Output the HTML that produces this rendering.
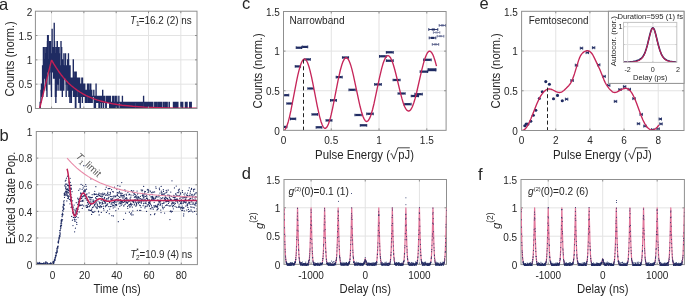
<!DOCTYPE html>
<html><head><meta charset="utf-8"><style>
html,body{margin:0;padding:0;background:#fff;}
svg{display:block;font-family:"Liberation Sans", sans-serif;will-change:transform;}
</style></head><body>
<svg width="685" height="296" viewBox="0 0 685 296">
<defs><clipPath id="cpa"><rect x="35.4" y="11.2" width="161.6" height="97.3"/></clipPath><clipPath id="cpb"><rect x="36.3" y="131.5" width="161.1" height="133.1"/></clipPath><clipPath id="cpc"><rect x="283.5" y="11.5" width="162.6" height="118.85"/></clipPath><clipPath id="cpd"><rect x="284" y="179.5" width="162.5" height="86.15"/></clipPath><clipPath id="cpf"><rect x="521" y="179.5" width="163.4" height="86.4"/></clipPath><clipPath id="cpe"><rect x="521.6" y="11.3" width="162.4" height="119.2"/></clipPath><clipPath id="cpi"><rect x="623.5" y="22.4" width="53.3" height="40"/></clipPath></defs>
<rect width="685" height="296" fill="#fff"/>
<path d="M51.56 11.2V108.5M83.88 11.2V108.5M116.2 11.2V108.5M148.52 11.2V108.5M180.84 11.2V108.5M35.4 84.17H197M35.4 59.85H197M35.4 35.53H197" stroke="#e3e3e3" stroke-width="1" fill="none"/>
<g clip-path="url(#cpa)">
<path d="M35.4 108.5H35.56V108.5H35.72V108.5H35.88V108.5H36.05V108.5H36.21V108.5H36.37V108.5H36.53V108.5H36.69V108.5H36.85V108.5H37.02V108.5H37.18V108.5H37.34V108.5H37.5V108.5H37.66V108.5H37.82V108.5H37.99V108.5H38.15V108.5H38.31V108.5H38.47V108.5H38.63V108.5H38.79V108.5H38.96V108.5H39.12V108.5H39.28V108.5H39.44V108.5H39.6V108.5H39.76V108.5H39.92V108.5H40.09V102.42H40.25V108.5H40.41V102.42H40.57V102.42H40.73V102.42H40.89V90.26H41.06V96.34H41.22V90.26H41.38V84.17H41.54V96.34H41.7V90.26H41.86V84.17H42.03V84.17H42.19V96.34H42.35V84.17H42.51V65.93H42.67V96.34H42.83V65.93H43V78.09H43.16V84.17H43.32V47.69H43.48V65.93H43.64V90.26H43.8V72.01H43.96V65.93H44.13V78.09H44.29V59.85H44.45V72.01H44.61V59.85H44.77V47.69H44.93V78.09H45.1V65.93H45.26V78.09H45.42V65.93H45.58V84.17H45.74V78.09H45.9V72.01H46.07V53.77H46.23V47.69H46.39V90.26H46.55V78.09H46.71V53.77H46.87V96.34H47.04V72.01H47.2V65.93H47.36V41.61H47.52V35.53H47.68V72.01H47.84V72.01H48V65.93H48.17V35.53H48.33V72.01H48.49V65.93H48.65V59.85H48.81V65.93H48.97V65.93H49.14V84.17H49.3V59.85H49.46V72.01H49.62V41.61H49.78V47.69H49.94V59.85H50.11V47.69H50.27V65.93H50.43V41.61H50.59V59.85H50.75V53.77H50.91V84.17H51.08V53.77H51.24V90.26H51.4V96.34H51.56V65.93H51.72V72.01H51.88V53.77H52.04V29.44H52.21V72.01H52.37V72.01H52.53V53.77H52.69V47.69H52.85V59.85H53.01V59.85H53.18V47.69H53.34V47.69H53.5V78.09H53.66V59.85H53.82V59.85H53.98V78.09H54.15V23.36H54.31V78.09H54.47V41.61H54.63V59.85H54.79V59.85H54.95V72.01H55.12V65.93H55.28V96.34H55.44V84.17H55.6V53.77H55.76V102.42H55.92V47.69H56.08V96.34H56.25V47.69H56.41V78.09H56.57V47.69H56.73V59.85H56.89V90.26H57.05V41.61H57.22V41.61H57.38V65.93H57.54V72.01H57.7V65.93H57.86V84.17H58.02V47.69H58.19V72.01H58.35V65.93H58.51V78.09H58.67V78.09H58.83V90.26H58.99V47.69H59.16V72.01H59.32V53.77H59.48V65.93H59.64V78.09H59.8V72.01H59.96V78.09H60.12V65.93H60.29V72.01H60.45V72.01H60.61V90.26H60.77V84.17H60.93V41.61H61.09V78.09H61.26V84.17H61.42V65.93H61.58V47.69H61.74V90.26H61.9V72.01H62.06V78.09H62.23V96.34H62.39V59.85H62.55V72.01H62.71V72.01H62.87V84.17H63.03V65.93H63.2V78.09H63.36V72.01H63.52V90.26H63.68V90.26H63.84V53.77H64V78.09H64.16V65.93H64.33V72.01H64.49V78.09H64.65V78.09H64.81V65.93H64.97V78.09H65.13V78.09H65.3V72.01H65.46V53.77H65.62V65.93H65.78V72.01H65.94V84.17H66.1V96.34H66.27V65.93H66.43V65.93H66.59V78.09H66.75V65.93H66.91V65.93H67.07V65.93H67.24V65.93H67.4V84.17H67.56V59.85H67.72V90.26H67.88V65.93H68.04V72.01H68.2V65.93H68.37V53.77H68.53V59.85H68.69V90.26H68.85V96.34H69.01V65.93H69.17V90.26H69.34V78.09H69.5V72.01H69.66V96.34H69.82V102.42H69.98V65.93H70.14V78.09H70.31V84.17H70.47V78.09H70.63V90.26H70.79V96.34H70.95V84.17H71.11V90.26H71.28V102.42H71.44V78.09H71.6V84.17H71.76V78.09H71.92V90.26H72.08V90.26H72.24V90.26H72.41V90.26H72.57V78.09H72.73V90.26H72.89V78.09H73.05V78.09H73.21V59.85H73.38V96.34H73.54V72.01H73.7V84.17H73.86V84.17H74.02V96.34H74.18V90.26H74.35V78.09H74.51V84.17H74.67V84.17H74.83V78.09H74.99V72.01H75.15V84.17H75.32V108.5H75.48V90.26H75.64V102.42H75.8V108.5H75.96V90.26H76.12V72.01H76.28V84.17H76.45V96.34H76.61V96.34H76.77V78.09H76.93V84.17H77.09V84.17H77.25V90.26H77.42V90.26H77.58V78.09H77.74V84.17H77.9V84.17H78.06V96.34H78.22V84.17H78.39V96.34H78.55V78.09H78.71V102.42H78.87V90.26H79.03V90.26H79.19V102.42H79.36V78.09H79.52V78.09H79.68V96.34H79.84V84.17H80V84.17H80.16V108.5H80.32V90.26H80.49V90.26H80.65V90.26H80.81V96.34H80.97V90.26H81.13V90.26H81.29V84.17H81.46V90.26H81.62V90.26H81.78V78.09H81.94V96.34H82.1V96.34H82.26V102.42H82.43V78.09H82.59V84.17H82.75V84.17H82.91V84.17H83.07V90.26H83.23V90.26H83.4V96.34H83.56V96.34H83.72V90.26H83.88V84.17H84.04V90.26H84.2V90.26H84.36V96.34H84.53V96.34H84.69V84.17H84.85V90.26H85.01V90.26H85.17V96.34H85.33V102.42H85.5V96.34H85.66V90.26H85.82V96.34H85.98V96.34H86.14V96.34H86.3V90.26H86.47V102.42H86.63V96.34H86.79V102.42H86.95V90.26H87.11V96.34H87.27V90.26H87.44V84.17H87.6V96.34H87.76V96.34H87.92V96.34H88.08V96.34H88.24V102.42H88.4V90.26H88.57V84.17H88.73V96.34H88.89V96.34H89.05V102.42H89.21V96.34H89.37V102.42H89.54V102.42H89.7V90.26H89.86V102.42H90.02V90.26H90.18V84.17H90.34V96.34H90.51V90.26H90.67V84.17H90.83V96.34H90.99V102.42H91.15V102.42H91.31V96.34H91.48V90.26H91.64V90.26H91.8V102.42H91.96V102.42H92.12V102.42H92.28V96.34H92.44V96.34H92.61V96.34H92.77V96.34H92.93V96.34H93.09V96.34H93.25V96.34H93.41V96.34H93.58V96.34H93.74V90.26H93.9V96.34H94.06V96.34H94.22V108.5H94.38V96.34H94.55V102.42H94.71V102.42H94.87V96.34H95.03V96.34H95.19V96.34H95.35V108.5H95.52V102.42H95.68V102.42H95.84V96.34H96V84.17H96.16V96.34H96.32V102.42H96.48V102.42H96.65V96.34H96.81V96.34H96.97V102.42H97.13V96.34H97.29V102.42H97.45V96.34H97.62V96.34H97.78V96.34H97.94V102.42H98.1V96.34H98.26V102.42H98.42V102.42H98.59V102.42H98.75V102.42H98.91V108.5H99.07V96.34H99.23V102.42H99.39V96.34H99.56V96.34H99.72V108.5H99.88V102.42H100.04V96.34H100.2V96.34H100.36V102.42H100.52V96.34H100.69V96.34H100.85V102.42H101.01V102.42H101.17V96.34H101.33V96.34H101.49V108.5H101.66V96.34H101.82V96.34H101.98V96.34H102.14V102.42H102.3V102.42H102.46V102.42H102.63V90.26H102.79V102.42H102.95V96.34H103.11V102.42H103.27V102.42H103.43V108.5H103.6V102.42H103.76V96.34H103.92V102.42H104.08V96.34H104.24V96.34H104.4V102.42H104.56V102.42H104.73V102.42H104.89V102.42H105.05V102.42H105.21V102.42H105.37V102.42H105.53V102.42H105.7V108.5H105.86V102.42H106.02V96.34H106.18V108.5H106.34V102.42H106.5V102.42H106.67V102.42H106.83V96.34H106.99V102.42H107.15V96.34H107.31V102.42H107.47V102.42H107.64V102.42H107.8V102.42H107.96V96.34H108.12V102.42H108.28V96.34H108.44V102.42H108.6V102.42H108.77V102.42H108.93V102.42H109.09V96.34H109.25V102.42H109.41V102.42H109.57V108.5H109.74V102.42H109.9V108.5H110.06V108.5H110.22V102.42H110.38V96.34H110.54V108.5H110.71V108.5H110.87V102.42H111.03V108.5H111.19V102.42H111.35V102.42H111.51V102.42H111.68V102.42H111.84V102.42H112V102.42H112.16V102.42H112.32V108.5H112.48V108.5H112.64V96.34H112.81V102.42H112.97V102.42H113.13V102.42H113.29V102.42H113.45V102.42H113.61V96.34H113.78V108.5H113.94V108.5H114.1V108.5H114.26V108.5H114.42V102.42H114.58V102.42H114.75V108.5H114.91V108.5H115.07V102.42H115.23V96.34H115.39V108.5H115.55V102.42H115.72V108.5H115.88V102.42H116.04V102.42H116.2V102.42H116.36V108.5H116.52V108.5H116.68V96.34H116.85V102.42H117.01V102.42H117.17V108.5H117.33V108.5H117.49V102.42H117.65V102.42H117.82V102.42H117.98V102.42H118.14V108.5H118.3V102.42H118.46V102.42H118.62V102.42H118.79V96.34H118.95V102.42H119.11V102.42H119.27V102.42H119.43V102.42H119.59V102.42H119.76V102.42H119.92V108.5H120.08V102.42H120.24V102.42H120.4V102.42H120.56V102.42H120.72V108.5H120.89V108.5H121.05V102.42H121.21V102.42H121.37V102.42H121.53V102.42H121.69V108.5H121.86V102.42H122.02V108.5H122.18V102.42H122.34V96.34H122.5V108.5H122.66V102.42H122.83V102.42H122.99V102.42H123.15V102.42H123.31V102.42H123.47V108.5H123.63V102.42H123.8V102.42H123.96V102.42H124.12V108.5H124.28V102.42H124.44V102.42H124.6V102.42H124.76V102.42H124.93V102.42H125.09V108.5H125.25V102.42H125.41V102.42H125.57V102.42H125.73V102.42H125.9V108.5H126.06V102.42H126.22V102.42H126.38V102.42H126.54V102.42H126.7V108.5H126.87V102.42H127.03V102.42H127.19V102.42H127.35V102.42H127.51V108.5H127.67V102.42H127.84V102.42H128V108.5H128.16V102.42H128.32V108.5H128.48V108.5H128.64V108.5H128.8V102.42H128.97V102.42H129.13V102.42H129.29V102.42H129.45V102.42H129.61V102.42H129.77V102.42H129.94V108.5H130.1V108.5H130.26V102.42H130.42V102.42H130.58V102.42H130.74V102.42H130.91V108.5H131.07V102.42H131.23V102.42H131.39V102.42H131.55V102.42H131.71V102.42H131.88V102.42H132.04V102.42H132.2V108.5H132.36V108.5H132.52V102.42H132.68V102.42H132.84V102.42H133.01V108.5H133.17V108.5H133.33V108.5H133.49V108.5H133.65V108.5H133.81V108.5H133.98V102.42H134.14V102.42H134.3V108.5H134.46V102.42H134.62V102.42H134.78V108.5H134.95V102.42H135.11V102.42H135.27V102.42H135.43V102.42H135.59V102.42H135.75V102.42H135.92V102.42H136.08V102.42H136.24V108.5H136.4V102.42H136.56V102.42H136.72V102.42H136.88V108.5H137.05V102.42H137.21V102.42H137.37V102.42H137.53V102.42H137.69V102.42H137.85V108.5H138.02V108.5H138.18V108.5H138.34V102.42H138.5V102.42H138.66V108.5H138.82V108.5H138.99V102.42H139.15V108.5H139.31V108.5H139.47V102.42H139.63V102.42H139.79V102.42H139.96V108.5H140.12V102.42H140.28V108.5H140.44V102.42H140.6V108.5H140.76V108.5H140.92V102.42H141.09V108.5H141.25V102.42H141.41V102.42H141.57V108.5H141.73V102.42H141.89V108.5H142.06V102.42H142.22V108.5H142.38V102.42H142.54V102.42H142.7V102.42H142.86V102.42H143.03V102.42H143.19V102.42H143.35V102.42H143.51V96.34H143.67V108.5H143.83V102.42H144V102.42H144.16V108.5H144.32V108.5H144.48V108.5H144.64V102.42H144.8V108.5H144.96V108.5H145.13V102.42H145.29V102.42H145.45V108.5H145.61V102.42H145.77V108.5H145.93V108.5H146.1V108.5H146.26V102.42H146.42V108.5H146.58V108.5H146.74V108.5H146.9V108.5H147.07V102.42H147.23V108.5H147.39V108.5H147.55V108.5H147.71V102.42H147.87V102.42H148.04V108.5H148.2V102.42H148.36V102.42H148.52V108.5H148.68V108.5H148.84V102.42H149V102.42H149.17V102.42H149.33V108.5H149.49V102.42H149.65V102.42H149.81V102.42H149.97V102.42H150.14V108.5H150.3V102.42H150.46V108.5H150.62V102.42H150.78V102.42H150.94V108.5H151.11V108.5H151.27V102.42H151.43V108.5H151.59V108.5H151.75V108.5H151.91V108.5H152.08V108.5H152.24V102.42H152.4V108.5H152.56V102.42H152.72V102.42H152.88V108.5H153.04V108.5H153.21V108.5H153.37V108.5H153.53V108.5H153.69V108.5H153.85V108.5H154.01V108.5H154.18V108.5H154.34V108.5H154.5V108.5H154.66V102.42H154.82V108.5H154.98V108.5H155.15V102.42H155.31V108.5H155.47V108.5H155.63V102.42H155.79V102.42H155.95V102.42H156.12V102.42H156.28V108.5H156.44V102.42H156.6V108.5H156.76V108.5H156.92V108.5H157.08V108.5H157.25V108.5H157.41V108.5H157.57V108.5H157.73V108.5H157.89V102.42H158.05V108.5H158.22V108.5H158.38V102.42H158.54V102.42H158.7V108.5H158.86V108.5H159.02V102.42H159.19V108.5H159.35V108.5H159.51V102.42H159.67V108.5H159.83V108.5H159.99V108.5H160.16V102.42H160.32V108.5H160.48V108.5H160.64V108.5H160.8V102.42H160.96V102.42H161.12V102.42H161.29V108.5H161.45V102.42H161.61V108.5H161.77V108.5H161.93V108.5H162.09V108.5H162.26V108.5H162.42V108.5H162.58V108.5H162.74V108.5H162.9V108.5H163.06V108.5H163.23V102.42H163.39V108.5H163.55V108.5H163.71V108.5H163.87V108.5H164.03V108.5H164.2V108.5H164.36V108.5H164.52V108.5H164.68V102.42H164.84V108.5H165V108.5H165.16V108.5H165.33V108.5H165.49V108.5H165.65V102.42H165.81V108.5H165.97V108.5H166.13V108.5H166.3V108.5H166.46V108.5H166.62V108.5H166.78V108.5H166.94V102.42H167.1V102.42H167.27V108.5H167.43V108.5H167.59V108.5H167.75V108.5H167.91V108.5H168.07V108.5H168.24V108.5H168.4V108.5H168.56V108.5H168.72V108.5H168.88V108.5H169.04V102.42H169.2V102.42H169.37V108.5H169.53V108.5H169.69V108.5H169.85V108.5H170.01V108.5H170.17V108.5H170.34V108.5H170.5V108.5H170.66V108.5H170.82V108.5H170.98V108.5H171.14V108.5H171.31V108.5H171.47V108.5H171.63V108.5H171.79V108.5H171.95V108.5H172.11V108.5H172.28V108.5H172.44V108.5H172.6V108.5H172.76V108.5H172.92V108.5H173.08V108.5H173.24V108.5H173.41V102.42H173.57V108.5H173.73V102.42H173.89V108.5H174.05V102.42H174.21V108.5H174.38V108.5H174.54V102.42H174.7V108.5H174.86V108.5H175.02V108.5H175.18V108.5H175.35V102.42H175.51V108.5H175.67V108.5H175.83V108.5H175.99V108.5H176.15V108.5H176.32V102.42H176.48V108.5H176.64V108.5H176.8V108.5H176.96V108.5H177.12V102.42H177.28V108.5H177.45V108.5H177.61V108.5H177.77V102.42H177.93V108.5H178.09V108.5H178.25V108.5H178.42V108.5H178.58V108.5H178.74V108.5H178.9V108.5H179.06V108.5H179.22V108.5H179.39V108.5H179.55V108.5H179.71V108.5H179.87V108.5H180.03V108.5H180.19V108.5H180.36V108.5H180.52V108.5H180.68V108.5H180.84V102.42H181V102.42H181.16V102.42H181.32V108.5H181.49V108.5H181.65V108.5H181.81V108.5H181.97V102.42H182.13V108.5H182.29V108.5H182.46V108.5H182.62V102.42H182.78V108.5H182.94V108.5H183.1V108.5H183.26V108.5H183.43V108.5H183.59V108.5H183.75V108.5H183.91V108.5H184.07V108.5H184.23V108.5H184.4V108.5H184.56V108.5H184.72V108.5H184.88V108.5H185.04V108.5H185.2V108.5H185.36V102.42H185.53V108.5H185.69V102.42H185.85V108.5H186.01V108.5H186.17V102.42H186.33V108.5H186.5V108.5H186.66V108.5H186.82V108.5H186.98V102.42H187.14V108.5H187.3V108.5H187.47V108.5H187.63V108.5H187.79V108.5H187.95V108.5H188.11V108.5H188.27V108.5H188.44V108.5H188.6V108.5H188.76V108.5H188.92V108.5H189.08V108.5H189.24V108.5H189.4V108.5H189.57V102.42H189.73V108.5H189.89V102.42H190.05V108.5H190.21V108.5H190.37V108.5H190.54V102.42H190.7V102.42H190.86V108.5H191.02V108.5H191.18V102.42H191.34V108.5H191.51V108.5H191.67V108.5H191.83V108.5H191.99V108.5H192.15V108.5H192.31V108.5H192.48V108.5H192.64V108.5H192.8V108.5H192.96V108.5H193.12V108.5H193.28V108.5H193.44V108.5H193.61V108.5H193.77V108.5H193.93V108.5H194.09V108.5H194.25V108.5H194.41V108.5H194.58V108.5H194.74V108.5H194.9V108.5H195.06V108.5H195.22V108.5H195.38V108.5H195.55V108.5H195.71V108.5H195.87V108.5H196.03V108.5H196.19V108.5H196.35V108.5H196.52V108.5H196.68V108.5H196.84V108.5H197V108.5" fill="none" stroke="#1f2b62" stroke-width="1.2"/>
<path d="M39.6 108.5 L51.44 60.35 L51.83 60.35 L53.8 63.84 L56.17 67.7 L58.54 71.23 L60.9 74.45 L63.27 77.4 L66.03 80.51 L68.4 82.93 L71.16 85.49 L73.92 87.79 L76.68 89.87 L79.84 91.98 L82.99 93.86 L86.15 95.52 L89.7 97.17 L93.25 98.6 L96.8 99.86 L100.35 100.95 L104.3 102.01 L108.24 102.92 L112.58 103.77 L117.31 104.55 L122.05 105.21 L132.7 106.31 L144.53 107.1 L158.74 107.69 L175.7 108.08 L197 108.31" fill="none" stroke="#c21f55" stroke-width="1.4" stroke-linejoin="round" />
</g>
<rect x="35.4" y="11.2" width="161.6" height="97.3" fill="none" stroke="#8f8f8f" stroke-width="1"/>
<path d="M51.56 108.5v-2.0M51.56 11.2v2.0M83.88 108.5v-2.0M83.88 11.2v2.0M116.2 108.5v-2.0M116.2 11.2v2.0M148.52 108.5v-2.0M148.52 11.2v2.0M180.84 108.5v-2.0M180.84 11.2v2.0M35.4 84.17h2.0M197 84.17h-2.0M35.4 59.85h2.0M197 59.85h-2.0M35.4 35.53h2.0M197 35.53h-2.0" stroke="#8f8f8f" stroke-width="1" fill="none"/>
<text x="32.4" y="112.8" font-size="10" text-anchor="end" fill="#262626" >0</text>
<text x="32.4" y="88.47" font-size="10" text-anchor="end" fill="#262626" >0.5</text>
<text x="32.4" y="64.15" font-size="10" text-anchor="end" fill="#262626" >1</text>
<text x="32.4" y="39.83" font-size="10" text-anchor="end" fill="#262626" >1.5</text>
<text x="32.4" y="15.5" font-size="10" text-anchor="end" fill="#262626" >2</text>
<text transform="translate(14.4,58.8) rotate(-90) scale(1,1.06)" x="0" y="0" font-size="11.3" text-anchor="middle" fill="#262626" >Counts (norm.)</text>
<text x="129.9" y="24" font-size="10" font-style="italic" fill="#262626">T</text><text x="136.1" y="26.4" font-size="6.5" fill="#262626">1</text><text x="138.7" y="24" font-size="10" fill="#262626" textLength="53.1" lengthAdjust="spacingAndGlyphs">=16.2 (2) ns</text>
<path d="M52.41 131.5V264.6M84.63 131.5V264.6M116.85 131.5V264.6M149.07 131.5V264.6M181.29 131.5V264.6M36.3 237.98H197.4M36.3 211.36H197.4M36.3 184.74H197.4M36.3 158.12H197.4" stroke="#e3e3e3" stroke-width="1" fill="none"/>
<g clip-path="url(#cpb)">
<path d="M36.3 264.33h0.01M36.54 264.3h0.01M36.78 263.96h0.01M37.02 262.36h0.01M37.27 264.28h0.01M37.51 263.72h0.01M37.75 263.29h0.01M37.99 264.02h0.01M38.23 264.47h0.01M38.47 264.32h0.01M38.72 263.05h0.01M38.96 264.09h0.01M39.2 262.45h0.01M39.44 263.48h0.01M39.68 262.8h0.01M39.92 264.31h0.01M40.17 263.96h0.01M40.41 264.11h0.01M40.65 263.41h0.01M40.89 263.54h0.01M41.13 263.76h0.01M41.37 263.39h0.01M41.62 263.95h0.01M41.86 264.48h0.01M42.1 263.84h0.01M42.34 263.94h0.01M42.58 264.58h0.01M42.82 263.61h0.01M43.07 264.51h0.01M43.31 263.65h0.01M43.55 263.11h0.01M43.79 262.92h0.01M44.03 263.77h0.01M44.27 263.12h0.01M44.52 264.28h0.01M44.76 264.5h0.01M45 264.08h0.01M45.24 264.12h0.01M45.48 263.12h0.01M45.72 261.91h0.01M45.97 263.66h0.01M46.21 262.16h0.01M46.45 264.57h0.01M46.69 264.58h0.01M46.93 263.83h0.01M47.17 262.65h0.01M47.42 263.33h0.01M47.66 264.51h0.01M47.9 264.4h0.01M48.14 264h0.01M48.38 264.43h0.01M48.62 263.9h0.01M48.87 264.15h0.01M49.11 264.55h0.01M49.35 263.89h0.01M49.59 263.89h0.01M49.83 264.45h0.01M50.07 264.45h0.01M50.32 263.35h0.01M50.56 262.93h0.01M50.8 264.46h0.01M51.04 263.13h0.01M51.28 263.43h0.01M51.52 263.8h0.01M51.77 264.06h0.01M52.01 264.58h0.01M52.25 264.33h0.01M52.41 264.42h0.01M52.49 263.97h0.01M52.57 264.49h0.01M52.65 262.31h0.01M52.73 262.01h0.01M52.81 264.24h0.01M52.89 263.74h0.01M52.97 262.98h0.01M53.05 262.52h0.01M53.13 261.55h0.01M53.22 265.25h0.01M53.3 265.24h0.01M53.38 262.39h0.01M53.46 264.01h0.01M53.54 262.45h0.01M53.62 264.66h0.01M53.7 262.62h0.01M53.78 265.16h0.01M53.86 263.11h0.01M53.94 262.94h0.01M54.02 261.07h0.01M54.1 261.47h0.01M54.18 261.78h0.01M54.26 260h0.01M54.34 260.76h0.01M54.42 259.98h0.01M54.5 259.38h0.01M54.58 260.4h0.01M54.67 260.49h0.01M54.75 259.27h0.01M54.83 260.14h0.01M54.91 258.63h0.01M54.99 257.25h0.01M55.07 257.35h0.01M55.15 258.94h0.01M55.23 260.02h0.01M55.31 257.84h0.01M55.39 257.64h0.01M55.47 255.44h0.01M55.55 257.4h0.01M55.63 256.81h0.01M55.71 255.03h0.01M55.79 256.55h0.01M55.87 255.73h0.01M55.95 252.52h0.01M56.03 252.51h0.01M56.12 253.48h0.01M56.2 253.67h0.01M56.28 255.2h0.01M56.36 252.5h0.01M56.44 252.89h0.01M56.52 252.26h0.01M56.6 253.01h0.01M56.68 251.85h0.01M56.76 251.73h0.01M56.84 250.57h0.01M56.92 248.47h0.01M57 249.7h0.01M57.08 252.38h0.01M57.16 250.91h0.01M57.24 251.44h0.01M57.32 249.81h0.01M57.4 247.32h0.01M57.48 247.13h0.01M57.57 248.23h0.01M57.65 246.47h0.01M57.73 247.59h0.01M57.81 248.16h0.01M57.89 247.69h0.01M57.97 246.41h0.01M58.05 242.47h0.01M58.13 246.23h0.01M58.21 241.82h0.01M58.29 241.22h0.01M58.37 243.05h0.01M58.45 242.38h0.01M58.53 242.76h0.01M58.61 241.38h0.01M58.69 239.85h0.01M58.77 240.35h0.01M58.85 238.35h0.01M58.93 237.52h0.01M59.02 238.32h0.01M59.1 237.83h0.01M59.18 237.97h0.01M59.26 236.76h0.01M59.34 238.8h0.01M59.42 235.59h0.01M59.5 235.42h0.01M59.58 236.89h0.01M59.66 230.64h0.01M59.74 236.11h0.01M59.82 235.4h0.01M59.9 232.58h0.01M59.98 236.59h0.01M60.06 233.71h0.01M60.14 234.76h0.01M60.22 233.05h0.01M60.3 230.69h0.01M60.38 229.11h0.01M60.47 226.74h0.01M60.55 226.83h0.01M60.63 225.33h0.01M60.71 226.14h0.01M60.79 228.13h0.01M60.87 223.63h0.01M60.95 227.05h0.01M61.03 226.81h0.01M61.11 220.67h0.01M61.19 221.97h0.01M61.27 222.87h0.01M61.35 220.81h0.01M61.43 219.83h0.01M61.51 225.45h0.01M61.59 221.3h0.01M61.67 223.8h0.01M61.75 219.45h0.01M61.83 221.16h0.01M61.91 214.51h0.01M62 216.37h0.01M62.08 219.79h0.01M62.16 216.73h0.01M62.24 219.84h0.01M62.32 215.27h0.01M62.4 213.01h0.01M62.48 213.26h0.01M62.56 219.81h0.01M62.64 213.93h0.01M62.72 210.45h0.01M62.8 210.47h0.01M62.88 206.86h0.01M62.96 214.66h0.01M63.04 207.68h0.01M63.12 211.17h0.01M63.2 207.48h0.01M63.28 206.03h0.01M63.36 204.3h0.01M63.45 208.29h0.01M63.53 204.77h0.01M63.61 209.2h0.01M63.69 209.48h0.01M63.77 201.25h0.01M63.85 202.91h0.01M63.93 208.37h0.01M64.01 204.67h0.01M64.09 200.51h0.01M64.17 193.58h0.01M64.25 194.89h0.01M64.33 195.16h0.01M64.41 205.18h0.01M64.49 197.43h0.01M64.57 194.27h0.01M64.65 193.89h0.01M64.73 193.05h0.01M64.81 195.13h0.01M64.9 185.65h0.01M64.98 186.09h0.01M65.06 192.32h0.01M65.14 195.58h0.01M65.22 181.07h0.01M65.3 192.2h0.01M65.38 184.13h0.01M65.46 180.76h0.01M65.54 194.11h0.01M65.62 188.3h0.01M65.7 191.34h0.01M65.78 187.2h0.01M65.86 188.13h0.01M65.94 180.16h0.01M66.02 186.77h0.01M66.1 189.73h0.01M66.18 184.05h0.01M66.26 191.07h0.01M66.35 191.56h0.01M66.43 178.22h0.01M66.51 193.94h0.01M66.59 192.25h0.01M66.67 189.48h0.01M66.75 195.29h0.01M66.83 200.93h0.01M66.91 184.06h0.01M66.99 193.95h0.01M67.07 192.66h0.01M67.15 191.76h0.01M67.23 195.13h0.01M67.31 195.68h0.01M67.39 188.83h0.01M67.47 176.24h0.01M67.55 185.56h0.01M67.63 185.48h0.01M67.71 198.38h0.01M67.8 189.86h0.01M67.88 196.57h0.01M67.96 185.1h0.01M68.04 190.88h0.01M68.12 189.21h0.01M68.2 189.86h0.01M68.28 192.71h0.01M68.36 198.27h0.01M68.44 185.42h0.01M68.52 197.28h0.01M68.6 195.91h0.01M68.68 190.38h0.01M68.76 192.77h0.01M68.84 186.74h0.01M68.92 182.07h0.01M69 186.67h0.01M69.08 186.94h0.01M69.16 187.98h0.01M69.24 182.88h0.01M69.33 199.47h0.01M69.41 185.98h0.01M69.49 194.03h0.01M69.57 196h0.01M69.65 188.58h0.01M69.73 191.18h0.01M69.81 185.46h0.01M69.89 182.56h0.01M69.97 203.85h0.01M70.05 190.39h0.01M70.13 178.34h0.01M70.21 185.43h0.01M70.29 182.34h0.01M70.37 191.05h0.01M70.45 200.98h0.01M70.53 199.64h0.01M70.61 188.97h0.01M70.69 188.07h0.01M70.78 199.06h0.01M70.86 196.89h0.01M70.94 194.33h0.01M71.02 207.36h0.01M71.1 199.51h0.01M71.18 188.21h0.01M71.26 185.49h0.01M71.34 200.3h0.01M71.42 189.19h0.01M71.5 204.39h0.01M71.58 206.91h0.01M71.66 216.42h0.01M71.74 197.62h0.01M71.88 207.04h0.01M72.02 191.64h0.01M72.15 205.08h0.01M72.29 207.02h0.01M72.43 220.18h0.01M72.56 200.77h0.01M72.7 212.92h0.01M72.84 212.39h0.01M72.97 225.57h0.01M73.11 207h0.01M73.25 207.18h0.01M73.39 217.46h0.01M73.52 213.65h0.01M73.66 212.23h0.01M73.8 209.11h0.01M73.93 214.69h0.01M74.07 205.05h0.01M74.21 217.31h0.01M74.34 219.72h0.01M74.48 219h0.01M74.62 231.77h0.01M74.75 221.22h0.01M74.89 210.11h0.01M75.03 214.62h0.01M75.17 221.17h0.01M75.3 213.89h0.01M75.44 228.23h0.01M75.58 217.41h0.01M75.71 212.22h0.01M75.85 210.88h0.01M75.99 219.6h0.01M76.12 208.93h0.01M76.26 202.71h0.01M76.4 216.37h0.01M76.53 208.8h0.01M76.67 222.43h0.01M76.81 224.44h0.01M76.95 208.19h0.01M77.08 211.17h0.01M77.22 209.69h0.01M77.36 213.94h0.01M77.49 211.62h0.01M77.63 204.29h0.01M77.77 198.16h0.01M77.9 209.42h0.01M78.04 217.62h0.01M78.18 199.11h0.01M78.31 202.63h0.01M78.45 201.55h0.01M78.59 204.01h0.01M78.73 190.31h0.01M78.86 199.97h0.01M79 200.21h0.01M79.14 211.91h0.01M79.27 205.76h0.01M79.41 205.86h0.01M79.55 201.29h0.01M79.68 198.44h0.01M79.82 204.64h0.01M79.96 188.94h0.01M80.1 205.58h0.01M80.23 201.33h0.01M80.37 196.66h0.01M80.51 205.34h0.01M80.64 193.76h0.01M80.78 192.98h0.01M80.92 198.26h0.01M81.05 184.42h0.01M81.19 195.27h0.01M81.33 193.73h0.01M81.46 201.04h0.01M81.6 205.15h0.01M81.74 198.51h0.01M81.88 196.38h0.01M82.01 197h0.01M82.15 189.32h0.01M82.29 208.49h0.01M82.42 200.68h0.01M82.56 204.81h0.01M82.7 185.31h0.01M82.83 201.41h0.01M82.97 196.57h0.01M83.11 200.14h0.01M83.24 187.88h0.01M83.38 195.93h0.01M83.52 192.08h0.01M83.66 205.96h0.01M83.79 165.71h0.01M83.93 191.24h0.01M84.07 190.38h0.01M84.2 186.31h0.01M84.34 195.22h0.01M84.48 195.21h0.01M84.61 189.96h0.01M84.75 191.93h0.01M84.89 196.24h0.01M85.02 194.68h0.01M85.16 198.26h0.01M85.3 191.01h0.01M85.44 189.91h0.01M85.57 195.85h0.01M85.71 184.61h0.01M85.85 205.83h0.01M85.98 198.09h0.01M86.12 186.44h0.01M86.26 199.79h0.01M86.39 207.3h0.01M86.53 189.21h0.01M86.67 194.7h0.01M86.8 205.66h0.01M86.94 193.86h0.01M87.08 205.17h0.01M87.22 207.4h0.01M87.35 200.39h0.01M87.49 202.68h0.01M87.63 206.74h0.01M87.76 202.51h0.01M87.9 206.69h0.01M88.04 200.41h0.01M88.17 201.17h0.01M88.31 196.7h0.01M88.45 204.3h0.01M88.59 209.91h0.01M88.72 210.05h0.01M88.86 203.68h0.01M89 192.94h0.01M89.13 197.35h0.01M89.27 206.68h0.01M89.41 197.13h0.01M89.54 210.2h0.01M89.68 197.01h0.01M89.82 205.72h0.01M89.95 198.79h0.01M90.09 199.8h0.01M90.23 205.44h0.01M90.37 201.82h0.01M90.5 210.47h0.01M90.64 204.45h0.01M90.78 197.41h0.01M90.91 178.96h0.01M91.05 199.85h0.01M91.19 203.66h0.01M91.32 210.44h0.01M91.46 197.73h0.01M91.6 214.41h0.01M91.73 209.16h0.01M91.87 202.02h0.01M92.01 211.59h0.01M92.15 194.7h0.01M92.28 197.4h0.01M92.42 207.55h0.01M92.56 207.42h0.01M92.69 212.04h0.01M92.83 212.47h0.01M92.97 201.07h0.01M93.1 199.87h0.01M93.24 201.45h0.01M93.38 201.88h0.01M93.51 206.85h0.01M93.65 201.08h0.01M93.79 212.22h0.01M93.93 203.01h0.01M94.06 193.89h0.01M94.2 194.69h0.01M94.34 205.54h0.01M94.47 204.62h0.01M94.61 193.97h0.01M94.75 191.32h0.01M94.88 211.36h0.01M95.02 204.65h0.01M95.16 200.46h0.01M95.29 194.28h0.01M95.43 206.78h0.01M95.57 197.55h0.01M95.71 203.21h0.01M95.84 186.63h0.01M95.98 198.46h0.01M96.12 201.8h0.01M96.25 202.91h0.01M96.39 194.24h0.01M96.53 196.43h0.01M96.66 207.14h0.01M96.8 199.04h0.01M96.94 208.5h0.01M97.07 204.81h0.01M97.21 208.02h0.01M97.35 208.11h0.01M97.49 204.09h0.01M97.62 205.81h0.01M97.76 196.45h0.01M97.9 194.72h0.01M98.03 201.01h0.01M98.17 206.36h0.01M98.31 194.47h0.01M98.44 211.8h0.01M98.58 211.18h0.01M98.72 194.78h0.01M98.86 195.18h0.01M98.99 193.18h0.01M99.13 214.97h0.01M99.27 206.87h0.01M99.4 202.22h0.01M99.54 195.59h0.01M99.68 203.77h0.01M99.81 203.37h0.01M99.95 207.63h0.01M100.09 206.21h0.01M100.22 193.88h0.01M100.36 196.28h0.01M100.5 206.23h0.01M100.64 205.75h0.01M100.77 202.59h0.01M100.91 195.79h0.01M101.05 206.37h0.01M101.18 200.26h0.01M101.32 212.45h0.01M101.46 207.03h0.01M101.59 196.76h0.01M101.73 193.87h0.01M101.87 206.55h0.01M102 204.24h0.01M102.14 194.64h0.01M102.28 202h0.01M102.42 202.98h0.01M102.55 196.52h0.01M102.69 198.57h0.01M102.83 193h0.01M102.96 195.01h0.01M103.1 203.5h0.01M103.24 200.75h0.01M103.37 200.45h0.01M103.51 208.48h0.01M103.65 206.19h0.01M103.78 194.3h0.01M103.92 210.09h0.01M104.06 194.28h0.01M104.2 198.71h0.01M104.33 201.38h0.01M104.47 197.27h0.01M104.61 197.71h0.01M104.74 193.27h0.01M104.88 203.22h0.01M105.02 202.21h0.01M105.15 202.37h0.01M105.29 189.35h0.01M105.43 195.15h0.01M105.56 206.69h0.01M105.7 203.11h0.01M105.84 205.44h0.01M105.98 201.06h0.01M106.11 199.87h0.01M106.25 187.13h0.01M106.39 212.47h0.01M106.52 194.96h0.01M106.66 198.63h0.01M106.8 205.65h0.01M106.93 205.18h0.01M107.07 204.43h0.01M107.21 201.1h0.01M107.35 195.24h0.01M107.48 210.76h0.01M107.62 193.38h0.01M107.76 203.75h0.01M107.89 192.24h0.01M108.03 198.94h0.01M108.17 188.69h0.01M108.3 197.99h0.01M108.44 194.8h0.01M108.58 201.12h0.01M108.71 206.56h0.01M108.85 197.32h0.01M108.99 197.07h0.01M109.13 188.54h0.01M109.26 213.71h0.01M109.4 202.61h0.01M109.54 194.86h0.01M109.67 209.05h0.01M109.81 202.73h0.01M109.95 188.32h0.01M110.08 192.6h0.01M110.22 206.67h0.01M110.36 192.49h0.01M110.49 193.95h0.01M110.63 196.42h0.01M110.77 198.82h0.01M110.91 199.38h0.01M111.04 206.43h0.01M111.18 204.23h0.01M111.32 196.54h0.01M111.45 200.14h0.01M111.59 189.63h0.01M111.73 202.99h0.01M111.86 215.63h0.01M112 202.93h0.01M112.14 199.14h0.01M112.27 198.47h0.01M112.41 200.36h0.01M112.55 205.79h0.01M112.69 191.55h0.01M112.82 204.76h0.01M112.96 196.3h0.01M113.1 202.39h0.01M113.23 207.94h0.01M113.37 191.9h0.01M113.51 215.93h0.01M113.64 205.74h0.01M113.78 197.84h0.01M113.92 202.65h0.01M114.05 195.84h0.01M114.19 201.03h0.01M114.33 203.17h0.01M114.47 187.13h0.01M114.6 201.7h0.01M114.74 201.3h0.01M114.88 206.95h0.01M115.01 204.88h0.01M115.15 196.3h0.01M115.29 196.81h0.01M115.42 200.24h0.01M115.56 204.53h0.01M115.7 196.03h0.01M115.84 210.66h0.01M115.97 202.3h0.01M116.11 201.75h0.01M116.25 205.38h0.01M116.38 199.25h0.01M116.52 204.27h0.01M116.66 205.1h0.01M116.79 189.14h0.01M116.93 195.63h0.01M117.07 192.82h0.01M117.2 199.86h0.01M117.34 194.26h0.01M117.48 195.39h0.01M117.62 192.74h0.01M117.75 185.67h0.01M117.89 201.57h0.01M118.03 198.6h0.01M118.16 200.5h0.01M118.3 221.72h0.01M118.44 208.76h0.01M118.57 200.1h0.01M118.71 196.34h0.01M118.85 203.75h0.01M118.98 193.28h0.01M119.12 192.38h0.01M119.26 202.79h0.01M119.4 191.55h0.01M119.53 189.55h0.01M119.67 197.44h0.01M119.81 206.31h0.01M119.94 186.18h0.01M120.08 201.32h0.01M120.22 202.65h0.01M120.35 199.63h0.01M120.49 203.65h0.01M120.63 193.8h0.01M120.76 195.62h0.01M120.9 192.93h0.01M121.04 196.84h0.01M121.18 205.28h0.01M121.31 201.4h0.01M121.45 195.08h0.01M121.59 202.94h0.01M121.72 182.59h0.01M121.86 201.96h0.01M122 204.08h0.01M122.13 193.47h0.01M122.27 195.93h0.01M122.41 200.69h0.01M122.54 201.94h0.01M122.68 197.93h0.01M122.82 195.44h0.01M122.96 195.89h0.01M123.09 202.42h0.01M123.23 197.93h0.01M123.37 195.42h0.01M123.5 195.91h0.01M123.64 219.49h0.01M123.78 206.05h0.01M123.91 205.36h0.01M124.05 202.02h0.01M124.19 199.52h0.01M124.33 194.98h0.01M124.46 196.84h0.01M124.6 201.4h0.01M124.74 200.48h0.01M124.87 189.85h0.01M125.01 204.38h0.01M125.15 198.76h0.01M125.28 191.04h0.01M125.42 198.51h0.01M125.56 213.13h0.01M125.69 198.33h0.01M125.83 202.99h0.01M125.97 201.31h0.01M126.11 194.18h0.01M126.24 197.73h0.01M126.38 202.22h0.01M126.52 195.14h0.01M126.65 197.93h0.01M126.79 199.95h0.01M126.93 198.74h0.01M127.06 199.03h0.01M127.2 202.65h0.01M127.34 203.38h0.01M127.47 200.41h0.01M127.61 206.4h0.01M127.75 208.26h0.01M127.89 192.58h0.01M128.02 202.01h0.01M128.16 200.68h0.01M128.3 201.35h0.01M128.43 200.37h0.01M128.57 200.37h0.01M128.71 200.1h0.01M128.84 205.43h0.01M128.98 194.78h0.01M129.12 204.72h0.01M129.25 194.14h0.01M129.39 212.22h0.01M129.53 206.96h0.01M129.67 194.38h0.01M129.8 201.36h0.01M129.94 204.55h0.01M130.08 198.14h0.01M130.21 206.83h0.01M130.35 199.96h0.01M130.49 213.98h0.01M130.62 203.19h0.01M130.76 204.39h0.01M130.9 197.1h0.01M131.03 195.04h0.01M131.17 205.63h0.01M131.31 190.54h0.01M131.45 204.01h0.01M131.58 212.97h0.01M131.72 214.95h0.01M131.86 190.96h0.01M131.99 200.91h0.01M132.13 204.34h0.01M132.27 200.73h0.01M132.4 207.06h0.01M132.54 192.09h0.01M132.68 200.88h0.01M132.82 210.88h0.01M132.95 201.58h0.01M133.09 214.75h0.01M133.23 195.19h0.01M133.36 202.61h0.01M133.5 201.81h0.01M133.64 190.76h0.01M133.77 201.97h0.01M133.91 193.25h0.01M134.05 200.39h0.01M134.18 204.97h0.01M134.32 197.26h0.01M134.46 204.04h0.01M134.6 192.85h0.01M134.73 194.49h0.01M134.87 199.99h0.01M135.01 196.64h0.01M135.14 196.92h0.01M135.28 202.07h0.01M135.42 194.9h0.01M135.55 201.78h0.01M135.69 196.61h0.01M135.83 206.21h0.01M135.96 199.77h0.01M136.1 197.85h0.01M136.24 205.23h0.01M136.38 202.94h0.01M136.51 203.66h0.01M136.65 195.93h0.01M136.79 204.8h0.01M136.92 197.71h0.01M137.06 191.06h0.01M137.2 198.21h0.01M137.33 210.26h0.01M137.47 199.63h0.01M137.61 194.02h0.01M137.74 202.15h0.01M137.88 193.61h0.01M138.02 196.61h0.01M138.16 197.82h0.01M138.29 202h0.01M138.43 203.54h0.01M138.57 201.97h0.01M138.7 200.02h0.01M138.84 197.2h0.01M138.98 197.83h0.01M139.11 202.25h0.01M139.25 200h0.01M139.39 198.03h0.01M139.52 210.35h0.01M139.66 205.11h0.01M139.8 205.29h0.01M139.94 201.65h0.01M140.07 202.09h0.01M140.21 201.98h0.01M140.35 205.74h0.01M140.48 196.28h0.01M140.62 198.7h0.01M140.76 210.46h0.01M140.89 200.32h0.01M141.03 207.29h0.01M141.17 189.97h0.01M141.3 203.18h0.01M141.44 202.8h0.01M141.58 199.88h0.01M141.72 201.62h0.01M141.85 200.75h0.01M141.99 190.91h0.01M142.13 199h0.01M142.26 195.27h0.01M142.4 193.48h0.01M142.54 200.14h0.01M142.67 190.04h0.01M142.81 196.17h0.01M142.95 194.52h0.01M143.09 205.66h0.01M143.22 195.37h0.01M143.36 197.84h0.01M143.5 203.66h0.01M143.63 186.39h0.01M143.77 196.9h0.01M143.91 201.83h0.01M144.04 199.17h0.01M144.18 194.79h0.01M144.32 193.44h0.01M144.45 196.79h0.01M144.59 192.9h0.01M144.73 191.35h0.01M144.87 207.91h0.01M145 203.32h0.01M145.14 206.1h0.01M145.28 199.75h0.01M145.41 191.5h0.01M145.55 196.34h0.01M145.69 206.74h0.01M145.82 202.13h0.01M145.96 194.03h0.01M146.1 203.58h0.01M146.23 200.92h0.01M146.37 198.46h0.01M146.51 211.48h0.01M146.65 195.55h0.01M146.78 198.23h0.01M146.92 196.84h0.01M147.06 206.31h0.01M147.19 205.02h0.01M147.33 189.89h0.01M147.47 198.78h0.01M147.6 199.88h0.01M147.74 199.53h0.01M147.88 189.34h0.01M148.01 192.32h0.01M148.15 204.71h0.01M148.29 204.31h0.01M148.43 189.8h0.01M148.56 202.25h0.01M148.7 191.87h0.01M148.84 190.52h0.01M148.97 203.63h0.01M149.11 201.96h0.01M149.25 199.8h0.01M149.38 205.59h0.01M149.52 206.29h0.01M149.66 202.76h0.01M149.79 195.08h0.01M149.93 203.05h0.01M150.07 201.57h0.01M150.21 203.15h0.01M150.34 208.66h0.01M150.48 191.22h0.01M150.62 214.64h0.01M150.75 204.31h0.01M150.89 196.88h0.01M151.03 208.85h0.01M151.16 196.6h0.01M151.3 192.64h0.01M151.44 205.57h0.01M151.58 199.03h0.01M151.71 207.11h0.01M151.85 197.2h0.01M151.99 199.77h0.01M152.12 198.99h0.01M152.26 194.41h0.01M152.4 197.43h0.01M152.53 192.07h0.01M152.67 196.43h0.01M152.81 207.66h0.01M152.94 198.72h0.01M153.08 197.32h0.01M153.22 209.17h0.01M153.36 192.15h0.01M153.49 199.9h0.01M153.63 198.07h0.01M153.77 205.81h0.01M153.9 199.88h0.01M154.04 198.49h0.01M154.18 202.32h0.01M154.31 199.83h0.01M154.45 214.55h0.01M154.59 191.99h0.01M154.72 207.15h0.01M154.86 213.69h0.01M155 206.21h0.01M155.14 205.44h0.01M155.27 197h0.01M155.41 205.93h0.01M155.55 198.59h0.01M155.68 206.21h0.01M155.82 186.82h0.01M155.96 197h0.01M156.09 188.36h0.01M156.23 206.55h0.01M156.37 196.28h0.01M156.5 206.2h0.01M156.64 196.8h0.01M156.78 196.19h0.01M156.92 210.11h0.01M157.05 207.31h0.01M157.19 207.49h0.01M157.33 209.56h0.01M157.46 204.83h0.01M157.6 206.23h0.01M157.74 209.21h0.01M157.87 199.76h0.01M158.01 197.02h0.01M158.15 208.41h0.01M158.28 203.78h0.01M158.42 200.32h0.01M158.56 201.79h0.01M158.7 204.66h0.01M158.83 195.41h0.01M158.97 195.19h0.01M159.11 196.21h0.01M159.24 201.65h0.01M159.38 188.22h0.01M159.52 189.72h0.01M159.65 202.84h0.01M159.79 201.12h0.01M159.93 193.11h0.01M160.07 205.28h0.01M160.2 197.94h0.01M160.34 200.1h0.01M160.48 204.69h0.01M160.61 201.81h0.01M160.75 210.01h0.01M160.89 203.71h0.01M161.02 212.61h0.01M161.16 186.43h0.01M161.3 191.17h0.01M161.43 192.87h0.01M161.57 198.55h0.01M161.71 194.28h0.01M161.85 192.61h0.01M161.98 194.18h0.01M162.12 194.78h0.01M162.26 205.99h0.01M162.39 197.78h0.01M162.53 203.68h0.01M162.67 207.63h0.01M162.8 207.4h0.01M162.94 197.79h0.01M163.08 193.96h0.01M163.21 208.79h0.01M163.35 189.73h0.01M163.49 191.42h0.01M163.63 202.75h0.01M163.76 203.25h0.01M163.9 200.87h0.01M164.04 194.41h0.01M164.17 202.77h0.01M164.31 207.2h0.01M164.45 198.32h0.01M164.58 213.07h0.01M164.72 199.57h0.01M164.86 193.34h0.01M164.99 198.56h0.01M165.13 195.66h0.01M165.27 197.41h0.01M165.41 195.98h0.01M165.54 199.55h0.01M165.68 205.52h0.01M165.82 201.82h0.01M165.95 200.89h0.01M166.09 192.73h0.01M166.23 190.49h0.01M166.36 197.87h0.01M166.5 205.05h0.01M166.64 204.91h0.01M166.77 201.59h0.01M166.91 191.94h0.01M167.05 198.39h0.01M167.19 200.78h0.01M167.32 205.13h0.01M167.46 195.04h0.01M167.6 198.67h0.01M167.73 200.75h0.01M167.87 199.81h0.01M168.01 190.12h0.01M168.14 201.42h0.01M168.28 190.1h0.01M168.42 203.49h0.01M168.56 200.12h0.01M168.69 195.03h0.01M168.83 201.2h0.01M168.97 205.51h0.01M169.1 202.08h0.01M169.24 206h0.01M169.38 197.31h0.01M169.51 200.35h0.01M169.65 196.97h0.01M169.79 195.38h0.01M169.92 219.55h0.01M170.06 198.54h0.01M170.2 211.47h0.01M170.34 199.42h0.01M170.47 205.82h0.01M170.61 199.81h0.01M170.75 192.08h0.01M170.88 210.9h0.01M171.02 199.28h0.01M171.16 200.93h0.01M171.29 212.03h0.01M171.43 196.48h0.01M171.57 200.24h0.01M171.7 203.56h0.01M171.84 204.87h0.01M171.98 180.78h0.01M172.12 202.86h0.01M172.25 211.47h0.01M172.39 206.15h0.01M172.53 202.69h0.01M172.66 202.8h0.01M172.8 200.93h0.01M172.94 206.86h0.01M173.07 197.13h0.01M173.21 203.41h0.01M173.35 208.78h0.01M173.48 205.44h0.01M173.62 202.8h0.01M173.76 195.25h0.01M173.9 197.48h0.01M174.03 202.52h0.01M174.17 200.33h0.01M174.31 199.13h0.01M174.44 187.97h0.01M174.58 204.23h0.01M174.72 197.59h0.01M174.85 196h0.01M174.99 206.28h0.01M175.13 199.29h0.01M175.26 199.45h0.01M175.4 203.32h0.01M175.54 196.97h0.01M175.68 194.15h0.01M175.81 193.53h0.01M175.95 201.62h0.01M176.09 199.29h0.01M176.22 186.06h0.01M176.36 207.2h0.01M176.5 199.09h0.01M176.63 195h0.01M176.77 199.53h0.01M176.91 196.43h0.01M177.05 199.39h0.01M177.18 195.83h0.01M177.32 192.59h0.01M177.46 201.8h0.01M177.59 199.24h0.01M177.73 200.79h0.01M177.87 202.92h0.01M178 200.57h0.01M178.14 207.38h0.01M178.28 195.89h0.01M178.41 190.02h0.01M178.55 190.01h0.01M178.69 192.64h0.01M178.83 206.35h0.01M178.96 191.14h0.01M179.1 204.83h0.01M179.24 200.77h0.01M179.37 189.14h0.01M179.51 207.01h0.01M179.65 195.3h0.01M179.78 198.72h0.01M179.92 201.38h0.01M180.06 207.11h0.01M180.19 197.86h0.01M180.33 203.29h0.01M180.47 194.05h0.01M180.61 192.95h0.01M180.74 208.89h0.01M180.88 203.54h0.01M181.02 202.4h0.01M181.15 207.68h0.01M181.29 207.29h0.01M181.43 199.9h0.01M181.56 201.72h0.01M181.7 210.56h0.01M181.84 203.74h0.01M181.97 197.27h0.01M182.11 207.83h0.01M182.25 206.1h0.01M182.39 190.72h0.01M182.52 192.38h0.01M182.66 210.37h0.01M182.8 208.72h0.01M182.93 198.14h0.01M183.07 207.74h0.01M183.21 201.99h0.01M183.34 203.21h0.01M183.48 197.02h0.01M183.62 215.93h0.01M183.75 213.93h0.01M183.89 207.95h0.01M184.03 194.24h0.01M184.17 201.39h0.01M184.3 210.9h0.01M184.44 197.43h0.01M184.58 196.11h0.01M184.71 201.95h0.01M184.85 202.47h0.01M184.99 197.77h0.01M185.12 193.04h0.01M185.26 199.51h0.01M185.4 197.18h0.01M185.53 200.74h0.01M185.67 202.78h0.01M185.81 206.05h0.01M185.95 198.88h0.01M186.08 202.28h0.01M186.22 201.94h0.01M186.36 194.75h0.01M186.49 197.46h0.01M186.63 195.12h0.01M186.77 210.09h0.01M186.9 197.03h0.01M187.04 204.06h0.01M187.18 205.39h0.01M187.32 205.66h0.01M187.45 193.03h0.01M187.59 195.38h0.01M187.73 204.83h0.01M187.86 207.41h0.01M188 200.36h0.01M188.14 203.26h0.01M188.27 190.28h0.01M188.41 209.39h0.01M188.55 211.65h0.01M188.68 202.01h0.01M188.82 200.38h0.01M188.96 199.63h0.01M189.1 195.83h0.01M189.23 187.75h0.01M189.37 202.54h0.01M189.51 203.78h0.01M189.64 211.22h0.01M189.78 198.96h0.01M189.92 195.22h0.01M190.05 202.04h0.01M190.19 193.22h0.01M190.33 200.26h0.01M190.46 191.17h0.01M190.6 198.41h0.01M190.74 206.92h0.01M190.88 204.35h0.01M191.01 209.84h0.01M191.15 211.08h0.01M191.29 189.38h0.01M191.42 195.12h0.01M191.56 188.48h0.01M191.7 200.78h0.01M191.83 201.9h0.01M191.97 207.24h0.01M192.11 194.4h0.01M192.24 198.06h0.01M192.38 204.09h0.01M192.52 196.23h0.01M192.66 197.01h0.01M192.79 211.9h0.01M192.93 195.9h0.01M193.07 199.61h0.01M193.2 202.84h0.01M193.34 203h0.01M193.48 189.74h0.01M193.61 191.04h0.01M193.75 189.27h0.01M193.89 207.48h0.01M194.02 204.45h0.01M194.16 194.9h0.01M194.3 207.85h0.01M194.44 204.86h0.01M194.57 211.49h0.01M194.71 189.1h0.01M194.85 193.94h0.01M194.98 197.64h0.01M195.12 199.1h0.01M195.26 203h0.01M195.39 202.88h0.01M195.53 196.68h0.01M195.67 204.8h0.01M195.81 192.93h0.01M195.94 203.46h0.01M196.08 205.79h0.01M196.22 192.5h0.01M196.35 201.33h0.01M196.49 197.05h0.01M196.63 202.99h0.01M196.76 214.22h0.01M196.9 197.1h0.01M197.04 208.69h0.01M197.17 193.82h0.01M197.31 209.94h0.01" stroke="#1f2b62" stroke-width="1.25" stroke-linecap="round" fill="none"/>
<path d="M67.07 158.12 L71.65 163.11 L74.27 165.68 L76.89 168.06 L79.51 170.27 L82.13 172.31 L84.75 174.2 L88.03 176.37 L90.65 177.96 L93.92 179.79 L99.82 182.67 L106.37 185.35 L113.57 187.75 L121.43 189.86 L129.29 191.54 L137.8 192.97 L147.63 194.23 L158.1 195.24 L169.24 196.02 L182.34 196.66 L197.4 197.16" fill="none" stroke="#e98aa8" stroke-width="1.1" stroke-linejoin="round" />
<path d="M67.07 168.77 L67.85 172.16 L68.64 177.5 L71.25 200.37 L72.29 207.99 L73.08 212.17 L73.6 214.11 L74.12 215.35 L74.64 215.9 L74.91 215.93 L75.43 215.54 L75.95 214.6 L76.47 213.2 L77.52 209.4 L79.61 200.56 L80.91 196.17 L81.44 194.91 L81.96 193.98 L82.48 193.37 L83 193.1 L83.26 193.08 L83.79 193.25 L84.31 193.69 L84.83 194.35 L85.88 196.15 L88.23 200.83 L89.27 202.46 L90.32 203.51 L90.84 203.8 L91.36 203.94 L92.14 203.87 L93.19 203.36 L94.23 202.51 L96.58 200.28 L97.63 199.5 L98.67 198.99 L99.72 198.78 L100.5 198.81 L101.28 198.97 L105.73 200.81 L107.03 201.13 L108.08 201.24 L109.64 201.15 L114.08 200.28 L116.43 200.07 L118 200.11 L122.44 200.52 L124.79 200.62 L133.15 200.36 L141.51 200.49 L197.4 200.45" fill="none" stroke="#c21f55" stroke-width="1.5" stroke-linejoin="round" />
</g>
<rect x="36.3" y="131.5" width="161.1" height="133.1" fill="none" stroke="#8f8f8f" stroke-width="1"/>
<path d="M52.41 264.6v-2.0M52.41 131.5v2.0M84.63 264.6v-2.0M84.63 131.5v2.0M116.85 264.6v-2.0M116.85 131.5v2.0M149.07 264.6v-2.0M149.07 131.5v2.0M181.29 264.6v-2.0M181.29 131.5v2.0M36.3 237.98h2.0M197.4 237.98h-2.0M36.3 211.36h2.0M197.4 211.36h-2.0M36.3 184.74h2.0M197.4 184.74h-2.0M36.3 158.12h2.0M197.4 158.12h-2.0" stroke="#8f8f8f" stroke-width="1" fill="none"/>
<text x="32.4" y="268.9" font-size="10" text-anchor="end" fill="#262626" >0</text>
<text x="32.4" y="242.28" font-size="10" text-anchor="end" fill="#262626" >0.2</text>
<text x="32.4" y="215.66" font-size="10" text-anchor="end" fill="#262626" >0.4</text>
<text x="32.4" y="189.04" font-size="10" text-anchor="end" fill="#262626" >0.6</text>
<text x="32.4" y="162.42" font-size="10" text-anchor="end" fill="#262626" >0.8</text>
<text x="32.4" y="135.8" font-size="10" text-anchor="end" fill="#262626" >1</text>
<text x="52.41" y="278.8" font-size="10" text-anchor="middle" fill="#262626" >0</text>
<text x="84.63" y="278.8" font-size="10" text-anchor="middle" fill="#262626" >20</text>
<text x="116.85" y="278.8" font-size="10" text-anchor="middle" fill="#262626" >40</text>
<text x="149.07" y="278.8" font-size="10" text-anchor="middle" fill="#262626" >60</text>
<text x="181.29" y="278.8" font-size="10" text-anchor="middle" fill="#262626" >80</text>
<text transform="translate(117.2,292.7) scale(1,1.07)" x="0" y="0" font-size="11.3" text-anchor="middle" fill="#262626">Time (ns)</text>
<text transform="translate(14.6,197.95) rotate(-90) scale(1,1.06)" x="0" y="0" font-size="11.3" text-anchor="middle" fill="#262626" >Excited State Pop.</text>
<text x="130.2" y="257.5" font-size="10" font-style="italic" fill="#262626">T</text><text x="136.0" y="260.0" font-size="6.5" fill="#262626">2</text><text x="136.3" y="253.2" font-size="6.5" fill="#262626">*</text><text x="139.6" y="257.5" font-size="10" fill="#262626" textLength="52.6" lengthAdjust="spacingAndGlyphs">=10.9 (4) ns</text>
<text transform="translate(75.3,157) rotate(43)" font-size="10" fill="#5a5a5a"><tspan font-style="italic">T</tspan><tspan font-size="6.5" dy="2.4">1</tspan><tspan dy="-2.4"> limit</tspan></text>
<path d="M331.27 11.5V130.35M379.03 11.5V130.35M426.8 11.5V130.35M283.5 90.73H446.1M283.5 51.12H446.1" stroke="#e3e3e3" stroke-width="1" fill="none"/>
<g clip-path="url(#cpc)">
<path d="M433.4 32.5H439.8M433.4 31.2V33.8M439.8 31.2V33.8" stroke="#858ba9" stroke-width="1.0" fill="none"/>
<rect x="435.2" y="31.6" width="2.8" height="1.8" fill="#858ba9"/>
<path d="M439.2 25.4H445.6M439.2 24.1V26.7M445.6 24.1V26.7" stroke="#525a8a" stroke-width="1.0" fill="none"/>
<rect x="441" y="24.5" width="2.8" height="1.8" fill="#525a8a"/>
<path d="M437.2 36.2H443.8M437.2 34.9V37.5M443.8 34.9V37.5" stroke="#737a9e" stroke-width="1.0" fill="none"/>
<rect x="439.1" y="35.3" width="2.8" height="1.8" fill="#737a9e"/>
<path d="M432.3 44.4H438.7M432.3 43.1V45.7M438.7 43.1V45.7" stroke="#60678f" stroke-width="1.0" fill="none"/>
<rect x="434.1" y="43.5" width="2.8" height="1.8" fill="#60678f"/>
<path d="M428.8 29.5H437.8M428.8 28.1V30.9M437.8 28.1V30.9" stroke="#1f2b62" stroke-width="0.9" fill="none"/>
<rect x="431.7" y="28.5" width="3.2" height="2" fill="#1f2b62"/>
<path d="M429.2 37.9H435.8M429.2 36.5V39.3M435.8 36.5V39.3" stroke="#1f2b62" stroke-width="0.9" fill="none"/>
<rect x="430.7" y="36.8" width="3.6" height="2.2" fill="#1f2b62"/>
<path d="M296.26 47.7H301.54M296.26 46.35V49.05M301.54 46.35V49.05" stroke="#1f2b62" stroke-width="1.05" fill="none"/>
<rect x="296.86" y="46.6" width="4.08" height="2.2" fill="#1f2b62"/>
<path d="M302.31 46.9H307.69M302.31 45.55V48.25M307.69 45.55V48.25" stroke="#1f2b62" stroke-width="1.05" fill="none"/>
<rect x="302.91" y="45.8" width="4.18" height="2.2" fill="#1f2b62"/>
<path d="M304.89 59.4H310.31M304.89 58.05V60.75M310.31 58.05V60.75" stroke="#1f2b62" stroke-width="1.05" fill="none"/>
<rect x="305.49" y="58.3" width="4.23" height="2.2" fill="#1f2b62"/>
<path d="M295.27 66.4H300.53M295.27 65.05V67.75M300.53 65.05V67.75" stroke="#1f2b62" stroke-width="1.05" fill="none"/>
<rect x="295.87" y="65.3" width="4.06" height="2.2" fill="#1f2b62"/>
<path d="M342.46 57.5H348.54M342.46 56.15V58.85M348.54 56.15V58.85" stroke="#1f2b62" stroke-width="1.05" fill="none"/>
<rect x="343.06" y="56.4" width="4.88" height="2.2" fill="#1f2b62"/>
<path d="M307.86 88.5H313.34M307.86 87.15V89.85M313.34 87.15V89.85" stroke="#1f2b62" stroke-width="1.05" fill="none"/>
<rect x="308.46" y="87.4" width="4.28" height="2.2" fill="#1f2b62"/>
<path d="M336.21 77.1H342.19M336.21 75.75V78.45M342.19 75.75V78.45" stroke="#1f2b62" stroke-width="1.05" fill="none"/>
<rect x="336.81" y="76" width="4.77" height="2.2" fill="#1f2b62"/>
<path d="M283.67 95.2H288.73M283.67 93.85V96.55M288.73 93.85V96.55" stroke="#1f2b62" stroke-width="1.05" fill="none"/>
<rect x="284.27" y="94.1" width="3.86" height="2.2" fill="#1f2b62"/>
<path d="M286.84 103.5H291.96M286.84 102.15V104.85M291.96 102.15V104.85" stroke="#1f2b62" stroke-width="1.05" fill="none"/>
<rect x="287.44" y="102.4" width="3.91" height="2.2" fill="#1f2b62"/>
<path d="M290.51 118.8H295.69M290.51 117.45V120.15M295.69 117.45V120.15" stroke="#1f2b62" stroke-width="1.05" fill="none"/>
<rect x="291.11" y="117.7" width="3.98" height="2.2" fill="#1f2b62"/>
<path d="M281.89 126.9H286.91M281.89 125.55V128.25M286.91 125.55V128.25" stroke="#1f2b62" stroke-width="1.05" fill="none"/>
<rect x="282.49" y="125.8" width="3.82" height="2.2" fill="#1f2b62"/>
<path d="M312.02 114.4H317.58M312.02 113.05V115.75M317.58 113.05V115.75" stroke="#1f2b62" stroke-width="1.05" fill="none"/>
<rect x="312.62" y="113.3" width="4.35" height="2.2" fill="#1f2b62"/>
<path d="M316.19 127.3H321.81M316.19 125.95V128.65M321.81 125.95V128.65" stroke="#1f2b62" stroke-width="1.05" fill="none"/>
<rect x="316.79" y="126.2" width="4.42" height="2.2" fill="#1f2b62"/>
<path d="M326.1 120.4H331.9M326.1 119.05V121.75M331.9 119.05V121.75" stroke="#1f2b62" stroke-width="1.05" fill="none"/>
<rect x="326.7" y="119.3" width="4.6" height="2.2" fill="#1f2b62"/>
<path d="M330.56 100.3H336.44M330.56 98.95V101.65M336.44 98.95V101.65" stroke="#1f2b62" stroke-width="1.05" fill="none"/>
<rect x="331.16" y="99.2" width="4.68" height="2.2" fill="#1f2b62"/>
<path d="M386.37 52.3H393.23M386.37 50.95V53.65M393.23 50.95V53.65" stroke="#1f2b62" stroke-width="1.05" fill="none"/>
<rect x="386.97" y="51.2" width="5.65" height="2.2" fill="#1f2b62"/>
<path d="M379.53 56.3H386.27M379.53 54.95V57.65M386.27 54.95V57.65" stroke="#1f2b62" stroke-width="1.05" fill="none"/>
<rect x="380.13" y="55.2" width="5.53" height="2.2" fill="#1f2b62"/>
<path d="M386.37 60.7H393.23M386.37 59.35V62.05M393.23 59.35V62.05" stroke="#1f2b62" stroke-width="1.05" fill="none"/>
<rect x="386.97" y="59.6" width="5.65" height="2.2" fill="#1f2b62"/>
<path d="M349 89.8H355.2M349 88.45V91.15M355.2 88.45V91.15" stroke="#1f2b62" stroke-width="1.05" fill="none"/>
<rect x="349.6" y="88.7" width="5" height="2.2" fill="#1f2b62"/>
<path d="M374.68 84.4H381.32M374.68 83.05V85.75M381.32 83.05V85.75" stroke="#1f2b62" stroke-width="1.05" fill="none"/>
<rect x="375.28" y="83.3" width="5.45" height="2.2" fill="#1f2b62"/>
<path d="M393.12 80H400.08M393.12 78.65V81.35M400.08 78.65V81.35" stroke="#1f2b62" stroke-width="1.05" fill="none"/>
<rect x="393.72" y="78.9" width="5.77" height="2.2" fill="#1f2b62"/>
<path d="M398.07 93.5H405.13M398.07 92.15V94.85M405.13 92.15V94.85" stroke="#1f2b62" stroke-width="1.05" fill="none"/>
<rect x="398.67" y="92.4" width="5.86" height="2.2" fill="#1f2b62"/>
<path d="M354.95 115H361.25M354.95 113.65V116.35M361.25 113.65V116.35" stroke="#1f2b62" stroke-width="1.05" fill="none"/>
<rect x="355.55" y="113.9" width="5.1" height="2.2" fill="#1f2b62"/>
<path d="M366.75 113.8H373.25M366.75 112.45V115.15M373.25 112.45V115.15" stroke="#1f2b62" stroke-width="1.05" fill="none"/>
<rect x="367.35" y="112.7" width="5.31" height="2.2" fill="#1f2b62"/>
<path d="M360.3 125.3H366.7M360.3 123.95V126.65M366.7 123.95V126.65" stroke="#1f2b62" stroke-width="1.05" fill="none"/>
<rect x="360.9" y="124.2" width="5.2" height="2.2" fill="#1f2b62"/>
<path d="M403.92 104.2H411.08M403.92 102.85V105.55M411.08 102.85V105.55" stroke="#1f2b62" stroke-width="1.05" fill="none"/>
<rect x="404.52" y="103.1" width="5.96" height="2.2" fill="#1f2b62"/>
<path d="M420.18 71.6H427.62M420.18 70.25V72.95M427.62 70.25V72.95" stroke="#1f2b62" stroke-width="1.05" fill="none"/>
<rect x="420.78" y="70.5" width="6.24" height="2.2" fill="#1f2b62"/>
<path d="M428.21 70.1H435.79M428.21 68.75V71.45M435.79 68.75V71.45" stroke="#1f2b62" stroke-width="1.05" fill="none"/>
<rect x="428.81" y="69" width="6.38" height="2.2" fill="#1f2b62"/>
<path d="M414.92 94.2H422.28M414.92 92.85V95.55M422.28 92.85V95.55" stroke="#1f2b62" stroke-width="1.05" fill="none"/>
<rect x="415.52" y="93.1" width="6.15" height="2.2" fill="#1f2b62"/>
<path d="M411.26 96H418.54M411.26 94.65V97.35M418.54 94.65V97.35" stroke="#1f2b62" stroke-width="1.05" fill="none"/>
<rect x="411.86" y="94.9" width="6.09" height="2.2" fill="#1f2b62"/>
<path d="M423.65 59.8H431.15M423.65 58.45V61.15M431.15 58.45V61.15" stroke="#1f2b62" stroke-width="1.05" fill="none"/>
<rect x="424.25" y="58.7" width="6.3" height="2.2" fill="#1f2b62"/>
<path d="M428.21 69.4H435.79M428.21 68.05V70.75M435.79 68.05V70.75" stroke="#1f2b62" stroke-width="1.05" fill="none"/>
<rect x="428.81" y="68.3" width="6.38" height="2.2" fill="#1f2b62"/>
<path d="M283.6 130.35 L283.98 130.27 L284.75 129.76 L285.13 129.33 L285.9 128.13 L287.05 125.49 L288.2 121.94 L289.35 117.57 L290.88 110.71 L296.63 80.87 L297.78 75.43 L298.93 70.57 L300.46 65.22 L301.61 62.22 L302.76 60.17 L303.53 59.38 L303.91 59.16 L304.29 59.05 L305.06 59.17 L305.44 59.4 L306.21 60.21 L307.36 62.27 L308.13 64.18 L308.89 66.48 L310.04 70.61 L311.57 77.18 L313.11 84.63 L317.32 106.35 L319.62 116.61 L321.15 121.98 L322.3 125.04 L323.07 126.55 L323.84 127.63 L324.22 127.99 L324.6 128.22 L324.99 128.31 L325.37 128.29 L326.14 127.89 L326.52 127.52 L327.29 126.43 L328.44 123.99 L329.97 119.32 L331.12 114.9 L332.65 108.04 L338.02 80.58 L340.31 70.23 L341.85 64.75 L343 61.59 L344.15 59.34 L344.91 58.37 L345.3 58.05 L346.06 57.74 L346.45 57.75 L347.21 58.11 L347.98 58.91 L349.13 60.9 L349.89 62.73 L350.66 64.92 L351.81 68.84 L353.34 75.04 L359.09 102.12 L360.24 107.04 L361.39 111.43 L362.92 116.22 L364.07 118.88 L365.22 120.65 L365.99 121.31 L366.37 121.47 L366.76 121.5 L367.52 121.22 L367.91 120.93 L368.67 120.01 L369.82 117.88 L370.59 115.98 L371.35 113.72 L372.5 109.73 L374.04 103.48 L379.4 78.08 L381.7 68.32 L383.23 63.05 L384.38 59.94 L385.53 57.65 L386.3 56.6 L386.68 56.22 L387.45 55.77 L388.22 55.68 L388.6 55.78 L389.37 56.29 L390.52 57.77 L391.28 59.22 L392.05 61 L393.2 64.26 L394.73 69.52 L396.26 75.53 L400.48 93.17 L402.01 98.92 L403.16 102.68 L404.69 106.73 L405.84 108.93 L406.99 110.32 L407.76 110.79 L408.53 111.01 L408.91 111 L409.68 110.71 L410.44 110.03 L411.21 108.97 L412.36 106.72 L413.89 102.56 L415.04 98.69 L416.57 92.74 L421.55 70.93 L423.47 63.35 L424.62 59.46 L425.39 57.22 L426.54 54.45 L427.3 53.04 L428.07 52 L428.45 51.63 L429.22 51.17 L429.6 51.12 L430.37 51.34 L430.75 51.61 L431.52 52.42 L432.67 54.36 L433.82 57.1 L434.97 60.55 L436.5 66.09" fill="none" stroke="#c6265a" stroke-width="1.35" stroke-linejoin="round" />
<line x1="303.5" y1="59.6" x2="303.5" y2="131" stroke="#222" stroke-width="1" stroke-dasharray="4 2.7"/>
</g>
<rect x="283.5" y="11.5" width="162.6" height="118.85" fill="none" stroke="#8f8f8f" stroke-width="1"/>
<path d="M331.27 130.35v-2.0M331.27 11.5v2.0M379.03 130.35v-2.0M379.03 11.5v2.0M426.8 130.35v-2.0M426.8 11.5v2.0M283.5 90.73h2.0M446.1 90.73h-2.0M283.5 51.12h2.0M446.1 51.12h-2.0" stroke="#8f8f8f" stroke-width="1" fill="none"/>
<text x="279.9" y="134.65" font-size="10" text-anchor="end" fill="#262626" >0</text>
<text x="279.9" y="95.03" font-size="10" text-anchor="end" fill="#262626" >0.5</text>
<text x="279.9" y="55.42" font-size="10" text-anchor="end" fill="#262626" >1</text>
<text x="279.9" y="15.8" font-size="10" text-anchor="end" fill="#262626" >1.5</text>
<text x="283.5" y="143.8" font-size="10" text-anchor="middle" fill="#262626" >0</text>
<text x="331.27" y="143.8" font-size="10" text-anchor="middle" fill="#262626" >0.5</text>
<text x="379.03" y="143.8" font-size="10" text-anchor="middle" fill="#262626" >1</text>
<text x="426.8" y="143.8" font-size="10" text-anchor="middle" fill="#262626" >1.5</text>
<text transform="translate(261.8,70.9) rotate(-90) scale(1,1.06)" x="0" y="0" font-size="11.3" text-anchor="middle" fill="#262626" >Counts (norm.)</text>
<text x="289.5" y="23.5" font-size="10.3" text-anchor="start" fill="#262626" textLength="55" lengthAdjust="spacingAndGlyphs" >Narrowband</text>
<text transform="translate(315.1,158.6) scale(1,1.07)" x="0" y="0" font-size="11.3" text-anchor="start" fill="#262626" textLength="74.9" lengthAdjust="spacingAndGlyphs">Pulse Energy (</text>
<path d="M390.4 154.1l1.1 -0.5l2.3 5.5l4.0 -11.3h12" fill="none" stroke="#262626" stroke-width="0.85" stroke-linejoin="miter"/>
<text transform="translate(398.3,158.6) scale(1,1.07)" x="0" y="0" font-size="11.3" text-anchor="start" fill="#262626" textLength="15.6" lengthAdjust="spacingAndGlyphs">pJ)</text>
<path d="M311.08 179.5V264.35M365.25 179.5V264.35M419.42 179.5V264.35M284 236.07H446.5M284 207.78H446.5" stroke="#e3e3e3" stroke-width="1" fill="none"/>
<rect x="284" y="179.5" width="162.5" height="84.85" fill="none" stroke="#8f8f8f" stroke-width="1"/>
<path d="M311.08 264.35v-2.0M311.08 179.5v2.0M365.25 264.35v-2.0M365.25 179.5v2.0M419.42 264.35v-2.0M419.42 179.5v2.0M284 236.07h2.0M446.5 236.07h-2.0M284 207.78h2.0M446.5 207.78h-2.0" stroke="#8f8f8f" stroke-width="1" fill="none"/>
<g clip-path="url(#cpd)">
<path d="M284 207.78 L284.76 239.13 L285.3 253.24 L285.62 257.93 L286 261.1 L286.46 263 L286.76 263.61 L287.11 263.99 L287.68 264.25 L288.58 264.34 L292.83 264.34 L293.99 264.21 L294.51 263.93 L294.89 263.43 L295.21 262.6 L295.48 261.41 L295.78 259.29 L296.05 256.24 L296.51 247.33 L296.89 235.14 L297.54 207.78 L298.27 238.17 L298.79 252.22 L299.11 257.29 L299.46 260.58 L299.9 262.69 L300.17 263.38 L300.47 263.82 L301.01 264.18 L301.85 264.32 L306.24 264.34 L307.45 264.23 L308 263.97 L308.4 263.48 L308.73 262.69 L309 261.56 L309.3 259.53 L309.57 256.61 L310.05 247.33 L310.43 235.14 L311.08 207.78 L311.79 237.19 L312.25 250.55 L312.52 255.47 L312.84 259.29 L313.2 261.7 L313.63 263.2 L314.17 263.97 L314.96 264.28 L318.77 264.35 L320.81 264.27 L321.43 264.05 L321.86 263.61 L322.21 262.85 L322.51 261.7 L322.84 259.53 L323.11 256.61 L323.6 247.33 L323.98 235.14 L324.62 207.78 L325.27 235.14 L325.65 247.33 L326.14 256.61 L326.41 259.53 L326.71 261.56 L327.01 262.77 L327.33 263.52 L327.74 263.99 L328.31 264.25 L329.64 264.35 L334.05 264.31 L334.86 264.11 L335.4 263.61 L335.89 262.4 L336.3 260.19 L336.65 256.61 L336.95 251.69 L337.44 238.17 L338.17 207.78 L338.82 235.14 L339.2 247.33 L339.68 256.61 L339.95 259.53 L340.25 261.56 L340.52 262.69 L340.85 263.48 L341.25 263.97 L341.77 264.23 L342.96 264.34 L347.27 264.33 L348.13 264.22 L348.68 263.93 L349 263.52 L349.27 262.93 L349.73 260.93 L350.11 257.62 L350.44 252.74 L350.95 239.13 L351.71 207.78 L352.66 245.13 L353.06 254.18 L353.55 259.98 L354.06 262.69 L354.39 263.48 L354.8 263.97 L355.23 264.2 L355.82 264.31 L358.91 264.35 L362.32 264.3 L363 264.14 L363.49 263.84 L363.95 263.24 L364.33 262.35 L365.25 258.69 L365.93 261.53 L366.33 262.78 L366.85 263.68 L367.52 264.16 L368.12 264.29 L369.04 264.34 L374.86 264.29 L375.41 264.15 L375.79 263.9 L376.08 263.52 L376.35 262.93 L376.76 261.26 L377.09 258.78 L377.65 249.95 L378.09 237.19 L378.79 207.78 L379.55 239.13 L380.06 252.74 L380.39 257.62 L380.77 260.93 L381.23 262.93 L381.5 263.52 L381.82 263.93 L382.37 264.22 L383.23 264.33 L387.54 264.34 L388.73 264.23 L389.25 263.97 L389.65 263.48 L389.98 262.69 L390.25 261.56 L390.55 259.53 L390.82 256.61 L391.3 247.33 L391.68 235.14 L392.33 207.78 L393.06 238.17 L393.55 251.69 L393.85 256.61 L394.2 260.19 L394.61 262.4 L395.1 263.61 L395.64 264.11 L396.45 264.31 L400.86 264.35 L402.19 264.25 L402.76 263.99 L403.17 263.52 L403.49 262.77 L403.79 261.56 L404.09 259.53 L404.36 256.61 L404.85 247.33 L405.23 235.14 L405.88 207.78 L406.52 235.14 L406.9 247.33 L407.39 256.61 L407.66 259.53 L407.99 261.7 L408.29 262.85 L408.64 263.61 L409.07 264.05 L409.69 264.27 L411.73 264.35 L415.54 264.28 L416.33 263.97 L416.87 263.2 L417.3 261.7 L417.66 259.29 L417.98 255.47 L418.25 250.55 L418.71 237.19 L419.42 207.78 L420.07 235.14 L420.45 247.33 L420.93 256.61 L421.2 259.53 L421.5 261.56 L421.77 262.69 L422.1 263.48 L422.5 263.97 L423.05 264.23 L424.26 264.34 L428.65 264.32 L429.49 264.18 L430.03 263.82 L430.33 263.38 L430.6 262.69 L431.04 260.58 L431.39 257.29 L431.71 252.22 L432.23 238.17 L432.96 207.78 L433.61 235.14 L433.99 247.33 L434.45 256.24 L434.72 259.29 L435.02 261.41 L435.29 262.6 L435.61 263.43 L435.99 263.93 L436.48 264.2 L437.62 264.34 L441.76 264.34 L442.74 264.26 L443.3 264.05 L443.66 263.72 L443.95 263.2 L444.44 261.41 L444.85 258.22 L445.17 253.72 L445.74 239.13 L446.5 207.78" fill="none" stroke="#e2779b" stroke-width="1.25" stroke-linejoin="round" />
<path d="M284 209.94h0.01M284.16 214.09h0.01M284.31 219.94h0.01M284.47 227.82h0.01M284.63 234.35h0.01M284.79 241.84h0.01M284.94 244.54h0.01M285.1 249.35h0.01M285.26 251.91h0.01M285.41 257.15h0.01M285.57 256.06h0.01M285.73 259.21h0.01M285.89 259.86h0.01M286.04 261.66h0.01M286.2 262.74h0.01M286.36 262.45h0.01M286.51 262.57h0.01M286.67 263.94h0.01M286.83 264.07h0.01M286.98 263.45h0.01M287.14 265.07h0.01M287.3 265.79h0.01M287.46 264.03h0.01M287.61 265.1h0.01M287.77 266.34h0.01M287.93 265.3h0.01M288.08 264.99h0.01M288.24 265.69h0.01M288.4 265.99h0.01M288.56 264.53h0.01M288.71 263.7h0.01M288.87 264.79h0.01M289.03 265.29h0.01M289.18 264.2h0.01M289.34 263.88h0.01M289.5 264.86h0.01M289.66 264.05h0.01M289.81 263.57h0.01M289.97 264.77h0.01M290.13 265.36h0.01M290.28 264.24h0.01M290.44 264.34h0.01M290.6 263.52h0.01M290.75 265.81h0.01M290.91 265.21h0.01M291.07 265.38h0.01M291.23 266.24h0.01M291.38 264.45h0.01M291.54 264.07h0.01M291.7 265.29h0.01M291.85 263.24h0.01M292.01 263.78h0.01M292.17 263.97h0.01M292.33 264.19h0.01M292.48 263.65h0.01M292.64 265.85h0.01M292.8 263.98h0.01M292.95 263.98h0.01M293.11 266.26h0.01M293.27 264.21h0.01M293.43 264.78h0.01M293.58 263.77h0.01M293.74 264.92h0.01M293.9 264.48h0.01M294.05 264.09h0.01M294.21 265.2h0.01M294.37 263.69h0.01M294.52 264.23h0.01M294.68 263.49h0.01M294.84 264.27h0.01M295 262.4h0.01M295.15 262.46h0.01M295.31 262.62h0.01M295.47 261.22h0.01M295.62 259.57h0.01M295.78 257.69h0.01M295.94 259.41h0.01M296.1 255.24h0.01M296.25 253.03h0.01M296.41 250.09h0.01M296.57 246.82h0.01M296.72 239.58h0.01M296.88 237.12h0.01M297.04 230.23h0.01M297.2 219.27h0.01M297.35 216.16h0.01M297.51 208.38h0.01M297.67 212.99h0.01M297.82 220.49h0.01M297.98 225.44h0.01M298.14 231.04h0.01M298.29 240.09h0.01M298.45 244.77h0.01M298.61 249.34h0.01M298.77 250.59h0.01M298.92 254.35h0.01M299.08 257.54h0.01M299.24 258.49h0.01M299.39 259.98h0.01M299.55 261.42h0.01M299.71 262.79h0.01M299.87 262.38h0.01M300.02 263.03h0.01M300.18 263.69h0.01M300.34 264.08h0.01M300.49 265.32h0.01M300.65 264.68h0.01M300.81 263.16h0.01M300.97 264.58h0.01M301.12 265.83h0.01M301.28 263.2h0.01M301.44 264h0.01M301.59 262.5h0.01M301.75 264.48h0.01M301.91 265h0.01M302.06 265.95h0.01M302.22 263.29h0.01M302.38 262.1h0.01M302.54 265.36h0.01M302.69 265.2h0.01M302.85 264h0.01M303.01 265.37h0.01M303.16 264.84h0.01M303.32 264.91h0.01M303.48 264.39h0.01M303.64 263.52h0.01M303.79 264.55h0.01M303.95 263.69h0.01M304.11 264.98h0.01M304.26 264.26h0.01M304.42 266.63h0.01M304.58 265.97h0.01M304.74 263.81h0.01M304.89 265.14h0.01M305.05 264.02h0.01M305.21 264.05h0.01M305.36 263.3h0.01M305.52 263.79h0.01M305.68 263.6h0.01M305.83 264.68h0.01M305.99 265.24h0.01M306.15 265.27h0.01M306.31 265.04h0.01M306.46 265.65h0.01M306.62 265.08h0.01M306.78 264.64h0.01M306.93 264.3h0.01M307.09 264.85h0.01M307.25 266.35h0.01M307.41 264.54h0.01M307.56 264.22h0.01M307.72 263.33h0.01M307.88 263.72h0.01M308.03 264.78h0.01M308.19 264.7h0.01M308.35 261.87h0.01M308.51 262.8h0.01M308.66 261.36h0.01M308.82 260.52h0.01M308.98 262.82h0.01M309.13 260.54h0.01M309.29 259.57h0.01M309.45 257.76h0.01M309.6 255.96h0.01M309.76 253.78h0.01M309.92 251.04h0.01M310.08 249.05h0.01M310.23 242.74h0.01M310.39 238.63h0.01M310.55 228.16h0.01M310.7 224.79h0.01M310.86 216.91h0.01M311.02 209.98h0.01M311.18 212.32h0.01M311.33 220.95h0.01M311.49 225.29h0.01M311.65 232.03h0.01M311.8 239.37h0.01M311.96 243.75h0.01M312.12 247.94h0.01M312.28 251.36h0.01M312.43 253.65h0.01M312.59 257.85h0.01M312.75 257.63h0.01M312.9 260.86h0.01M313.06 261.78h0.01M313.22 262.25h0.01M313.37 263.21h0.01M313.53 262.88h0.01M313.69 264.12h0.01M313.85 264.89h0.01M314 264.84h0.01M314.16 262.94h0.01M314.32 264.26h0.01M314.47 265.51h0.01M314.63 264.42h0.01M314.79 265.97h0.01M314.95 262.79h0.01M315.1 265.99h0.01M315.26 264.08h0.01M315.42 264.03h0.01M315.57 265.95h0.01M315.73 264.28h0.01M315.89 263.61h0.01M316.05 264.12h0.01M316.2 264.32h0.01M316.36 263.66h0.01M316.52 264.42h0.01M316.67 264.25h0.01M316.83 264.7h0.01M316.99 263.97h0.01M317.14 265.48h0.01M317.3 263.81h0.01M317.46 265.06h0.01M317.62 265.62h0.01M317.77 264.22h0.01M317.93 262.95h0.01M318.09 263.65h0.01M318.24 265.07h0.01M318.4 263.9h0.01M318.56 265.01h0.01M318.72 264.7h0.01M318.87 264.49h0.01M319.03 266.8h0.01M319.19 264.39h0.01M319.34 265.56h0.01M319.5 265.24h0.01M319.66 265.99h0.01M319.82 266.03h0.01M319.97 265.47h0.01M320.13 263.77h0.01M320.29 262.95h0.01M320.44 264.57h0.01M320.6 263.48h0.01M320.76 264.76h0.01M320.91 266.32h0.01M321.07 264.29h0.01M321.23 263.96h0.01M321.39 264.71h0.01M321.54 263.9h0.01M321.7 263.48h0.01M321.86 264.69h0.01M322.01 264.99h0.01M322.17 263.43h0.01M322.33 262.96h0.01M322.49 262.51h0.01M322.64 260.26h0.01M322.8 258.53h0.01M322.96 258.64h0.01M323.11 256.12h0.01M323.27 253.58h0.01M323.43 250.94h0.01M323.59 245.9h0.01M323.74 244.42h0.01M323.9 237.63h0.01M324.06 230.94h0.01M324.21 224.7h0.01M324.37 218.72h0.01M324.53 208.78h0.01M324.68 210.81h0.01M324.84 216h0.01M325 222.15h0.01M325.16 229.59h0.01M325.31 238.17h0.01M325.47 242.37h0.01M325.63 248.27h0.01M325.78 251.86h0.01M325.94 252.21h0.01M326.1 256.03h0.01M326.26 259.69h0.01M326.41 259.14h0.01M326.57 261.36h0.01M326.73 263.62h0.01M326.88 263.18h0.01M327.04 262.85h0.01M327.2 262.87h0.01M327.36 263.67h0.01M327.51 263.94h0.01M327.67 263.71h0.01M327.83 264.47h0.01M327.98 263.23h0.01M328.14 264.28h0.01M328.3 264.19h0.01M328.45 263.98h0.01M328.61 265.54h0.01M328.77 265.22h0.01M328.93 263.08h0.01M329.08 264.24h0.01M329.24 264.84h0.01M329.4 264.24h0.01M329.55 265.03h0.01M329.71 264.3h0.01M329.87 265.21h0.01M330.03 264.31h0.01M330.18 266.09h0.01M330.34 263.3h0.01M330.5 265.07h0.01M330.65 266.1h0.01M330.81 264.79h0.01M330.97 264.93h0.01M331.13 264.43h0.01M331.28 265.68h0.01M331.44 264.19h0.01M331.6 261.09h0.01M331.75 265.81h0.01M331.91 264.25h0.01M332.07 264.87h0.01M332.22 264.39h0.01M332.38 266.32h0.01M332.54 265.68h0.01M332.7 264.13h0.01M332.85 264.61h0.01M333.01 263h0.01M333.17 265.25h0.01M333.32 264.4h0.01M333.48 261.76h0.01M333.64 265.3h0.01M333.8 265.42h0.01M333.95 264.58h0.01M334.11 264.58h0.01M334.27 263.7h0.01M334.42 264.36h0.01M334.58 265.17h0.01M334.74 264.2h0.01M334.9 261.77h0.01M335.05 263h0.01M335.21 266.78h0.01M335.37 263.98h0.01M335.52 264.5h0.01M335.68 262.66h0.01M335.84 262.9h0.01M335.99 260.38h0.01M336.15 260.61h0.01M336.31 259.34h0.01M336.47 258.76h0.01M336.62 257.5h0.01M336.78 254.93h0.01M336.94 251.03h0.01M337.09 247.68h0.01M337.25 244.93h0.01M337.41 237.63h0.01M337.57 231.72h0.01M337.72 225.4h0.01M337.88 218.38h0.01M338.04 211.06h0.01M338.19 211.92h0.01M338.35 215.68h0.01M338.51 220.68h0.01M338.67 228.74h0.01M338.82 236.73h0.01M338.98 241.3h0.01M339.14 246.16h0.01M339.29 249.58h0.01M339.45 255.95h0.01M339.61 256.21h0.01M339.76 257.46h0.01M339.92 257.82h0.01M340.08 258.99h0.01M340.24 260.34h0.01M340.39 263.47h0.01M340.55 265.13h0.01M340.71 262.85h0.01M340.86 263.73h0.01M341.02 263.03h0.01M341.18 264.25h0.01M341.34 264.05h0.01M341.49 265.8h0.01M341.65 263.99h0.01M341.81 264.89h0.01M341.96 264.16h0.01M342.12 264.08h0.01M342.28 264.65h0.01M342.44 264.25h0.01M342.59 264.57h0.01M342.75 263.83h0.01M342.91 264.08h0.01M343.06 265.1h0.01M343.22 265.14h0.01M343.38 262.9h0.01M343.53 264.67h0.01M343.69 263.62h0.01M343.85 264.2h0.01M344.01 265.12h0.01M344.16 265.3h0.01M344.32 264.46h0.01M344.48 264.33h0.01M344.63 263.99h0.01M344.79 265.79h0.01M344.95 265.15h0.01M345.11 264.67h0.01M345.26 263.04h0.01M345.42 266.85h0.01M345.58 264.15h0.01M345.73 265.1h0.01M345.89 264.16h0.01M346.05 265.05h0.01M346.21 264.22h0.01M346.36 263.07h0.01M346.52 264.23h0.01M346.68 264.16h0.01M346.83 264.21h0.01M346.99 265.29h0.01M347.15 264.04h0.01M347.3 264.76h0.01M347.46 265.33h0.01M347.62 264.57h0.01M347.78 264.73h0.01M347.93 263.77h0.01M348.09 264.5h0.01M348.25 264.91h0.01M348.4 262.94h0.01M348.56 263.3h0.01M348.72 262.87h0.01M348.88 263.34h0.01M349.03 263.8h0.01M349.19 263.74h0.01M349.35 263.22h0.01M349.5 261.31h0.01M349.66 261.45h0.01M349.82 261.95h0.01M349.98 259.25h0.01M350.13 259.14h0.01M350.29 255.61h0.01M350.45 253.84h0.01M350.6 250.48h0.01M350.76 244.46h0.01M350.92 240.21h0.01M351.07 237.29h0.01M351.23 226.89h0.01M351.39 217.89h0.01M351.55 213.72h0.01M351.7 207.88h0.01M351.86 215.88h0.01M352.02 219.49h0.01M352.17 228.69h0.01M352.33 235.16h0.01M352.49 239.99h0.01M352.65 244.11h0.01M352.8 250.25h0.01M352.96 252.42h0.01M353.12 256.24h0.01M353.27 257.53h0.01M353.43 258.45h0.01M353.59 262.26h0.01M353.75 262.02h0.01M353.9 262.11h0.01M354.06 261.87h0.01M354.22 262.04h0.01M354.37 264.1h0.01M354.53 264.62h0.01M354.69 263.66h0.01M354.84 264.57h0.01M355 264.63h0.01M355.16 263.36h0.01M355.32 262.84h0.01M355.47 264.24h0.01M355.63 264.7h0.01M355.79 263.99h0.01M355.94 266.36h0.01M356.1 264.57h0.01M356.26 265.58h0.01M356.42 262.27h0.01M356.57 263.88h0.01M356.73 264.44h0.01M356.89 264.76h0.01M357.04 266.99h0.01M357.2 263.89h0.01M357.36 263.01h0.01M357.52 265.28h0.01M357.67 263.92h0.01M357.83 263.88h0.01M357.99 266.06h0.01M358.14 263.68h0.01M358.3 263.27h0.01M358.46 264.36h0.01M358.61 264.64h0.01M358.77 263.82h0.01M358.93 266.06h0.01M359.09 264.49h0.01M359.24 263.56h0.01M359.4 265.77h0.01M359.56 263.62h0.01M359.71 264.98h0.01M359.87 266.58h0.01M360.03 264.68h0.01M360.19 265.51h0.01M360.34 264.27h0.01M360.5 265.7h0.01M360.66 263.56h0.01M360.81 265.28h0.01M360.97 264.23h0.01M361.13 265.14h0.01M361.29 264.88h0.01M361.44 263.42h0.01M361.6 264.36h0.01M361.76 264.94h0.01M361.91 265.76h0.01M362.07 263.43h0.01M362.23 263.83h0.01M362.38 264.83h0.01M362.54 264.26h0.01M362.7 265.46h0.01M362.86 265.4h0.01M363.01 265.16h0.01M363.17 263.97h0.01M363.33 263.93h0.01M363.48 264.8h0.01M363.64 263.23h0.01M363.8 262.95h0.01M363.96 263.3h0.01M364.11 262.14h0.01M364.27 263.08h0.01M364.43 262.43h0.01M364.58 261.22h0.01M364.74 261.08h0.01M364.9 259.67h0.01M365.06 260.8h0.01M365.21 257.61h0.01M365.37 260.05h0.01M365.53 259.97h0.01M365.68 262.12h0.01M365.84 260.81h0.01M366 260.76h0.01M366.15 261.51h0.01M366.31 262.21h0.01M366.47 264.78h0.01M366.63 264.34h0.01M366.78 264.27h0.01M366.94 264.9h0.01M367.1 263.06h0.01M367.25 264.08h0.01M367.41 264.36h0.01M367.57 263.94h0.01M367.73 265.36h0.01M367.88 265.36h0.01M368.04 265.35h0.01M368.2 264.05h0.01M368.35 264.21h0.01M368.51 263.99h0.01M368.67 263.52h0.01M368.83 265.87h0.01M368.98 265.11h0.01M369.14 264.43h0.01M369.3 265.87h0.01M369.45 265.08h0.01M369.61 263.6h0.01M369.77 263.51h0.01M369.92 263.54h0.01M370.08 264.53h0.01M370.24 264.78h0.01M370.4 263.54h0.01M370.55 264.93h0.01M370.71 264.25h0.01M370.87 263.3h0.01M371.02 264.93h0.01M371.18 265.16h0.01M371.34 264.59h0.01M371.5 264h0.01M371.65 264.11h0.01M371.81 264.43h0.01M371.97 264.04h0.01M372.12 266.11h0.01M372.28 265.4h0.01M372.44 264.42h0.01M372.6 265.47h0.01M372.75 265.87h0.01M372.91 265.74h0.01M373.07 265.46h0.01M373.22 264.75h0.01M373.38 265.56h0.01M373.54 264.35h0.01M373.69 262.94h0.01M373.85 264.71h0.01M374.01 263.34h0.01M374.17 264.29h0.01M374.32 265.64h0.01M374.48 264.8h0.01M374.64 265.48h0.01M374.79 263.78h0.01M374.95 265.61h0.01M375.11 263.2h0.01M375.27 263.87h0.01M375.42 266.31h0.01M375.58 263.53h0.01M375.74 262.67h0.01M375.89 264.78h0.01M376.05 262.82h0.01M376.21 265.31h0.01M376.37 262.93h0.01M376.52 264.12h0.01M376.68 261.43h0.01M376.84 262.82h0.01M376.99 262.33h0.01M377.15 257.76h0.01M377.31 254.35h0.01M377.46 254.3h0.01M377.62 250.17h0.01M377.78 247.12h0.01M377.94 242.99h0.01M378.09 235.76h0.01M378.25 230.61h0.01M378.41 225.79h0.01M378.56 215.4h0.01M378.72 211.82h0.01M378.88 214.7h0.01M379.04 215.28h0.01M379.19 223.02h0.01M379.35 232.8h0.01M379.51 236.07h0.01M379.66 243.72h0.01M379.82 246.26h0.01M379.98 250.21h0.01M380.14 254.16h0.01M380.29 256.66h0.01M380.45 257.13h0.01M380.61 258.54h0.01M380.76 260.27h0.01M380.92 263.31h0.01M381.08 264.21h0.01M381.23 262.02h0.01M381.39 264.44h0.01M381.55 263.71h0.01M381.71 265.06h0.01M381.86 264.37h0.01M382.02 265.52h0.01M382.18 262.81h0.01M382.33 265.41h0.01M382.49 264.59h0.01M382.65 264.69h0.01M382.81 263.37h0.01M382.96 265.91h0.01M383.12 264.58h0.01M383.28 264.76h0.01M383.43 264.06h0.01M383.59 264.12h0.01M383.75 265.02h0.01M383.91 264.34h0.01M384.06 264.93h0.01M384.22 264.12h0.01M384.38 264.67h0.01M384.53 265.21h0.01M384.69 264.6h0.01M384.85 264.23h0.01M385 262.4h0.01M385.16 265.05h0.01M385.32 264.28h0.01M385.48 263.17h0.01M385.63 266.57h0.01M385.79 266.25h0.01M385.95 265.72h0.01M386.1 264.69h0.01M386.26 262.23h0.01M386.42 264.2h0.01M386.58 263.41h0.01M386.73 264.79h0.01M386.89 266.94h0.01M387.05 266.8h0.01M387.2 263.59h0.01M387.36 264.39h0.01M387.52 265.82h0.01M387.68 263.49h0.01M387.83 266.04h0.01M387.99 263.46h0.01M388.15 263.15h0.01M388.3 265.27h0.01M388.46 265.58h0.01M388.62 263.67h0.01M388.77 265.49h0.01M388.93 263.55h0.01M389.09 265.46h0.01M389.25 263.42h0.01M389.4 263.96h0.01M389.56 264.24h0.01M389.72 264.38h0.01M389.87 262.99h0.01M390.03 264.48h0.01M390.19 262.38h0.01M390.35 261.56h0.01M390.5 259.6h0.01M390.66 260.03h0.01M390.82 255.11h0.01M390.97 255.09h0.01M391.13 252.36h0.01M391.29 246.95h0.01M391.45 242h0.01M391.6 238.7h0.01M391.76 233.6h0.01M391.92 225.47h0.01M392.07 217.57h0.01M392.23 207.96h0.01M392.39 210.05h0.01M392.54 215.34h0.01M392.7 223.5h0.01M392.86 230.99h0.01M393.02 236.48h0.01M393.17 241.91h0.01M393.33 245.94h0.01M393.49 250.4h0.01M393.64 254.25h0.01M393.8 253.8h0.01M393.96 257.67h0.01M394.12 260.04h0.01M394.27 258.89h0.01M394.43 261.81h0.01M394.59 263.63h0.01M394.74 262.38h0.01M394.9 264.39h0.01M395.06 264.24h0.01M395.22 263.69h0.01M395.37 264.29h0.01M395.53 265.01h0.01M395.69 264.89h0.01M395.84 264.99h0.01M396 263.35h0.01M396.16 265.19h0.01M396.31 265.07h0.01M396.47 262.58h0.01M396.63 265.08h0.01M396.79 263.13h0.01M396.94 263.3h0.01M397.1 264.71h0.01M397.26 265.94h0.01M397.41 264.14h0.01M397.57 263.93h0.01M397.73 263.64h0.01M397.89 264.51h0.01M398.04 263.42h0.01M398.2 263.24h0.01M398.36 265.59h0.01M398.51 263.2h0.01M398.67 264.41h0.01M398.83 265.12h0.01M398.99 264.88h0.01M399.14 262.77h0.01M399.3 263.63h0.01M399.46 266.3h0.01M399.61 264.5h0.01M399.77 264.71h0.01M399.93 264.74h0.01M400.08 265.07h0.01M400.24 265.98h0.01M400.4 263.75h0.01M400.56 265.48h0.01M400.71 264.93h0.01M400.87 265.15h0.01M401.03 265.27h0.01M401.18 263.85h0.01M401.34 264.19h0.01M401.5 265.2h0.01M401.66 265.45h0.01M401.81 264.98h0.01M401.97 263.58h0.01M402.13 264.37h0.01M402.28 264.22h0.01M402.44 264.71h0.01M402.6 264.57h0.01M402.76 264.02h0.01M402.91 265.87h0.01M403.07 262.32h0.01M403.23 264.38h0.01M403.38 263.88h0.01M403.54 261.56h0.01M403.7 262.01h0.01M403.85 261.41h0.01M404.01 261.06h0.01M404.17 260.31h0.01M404.33 256.97h0.01M404.48 253.96h0.01M404.64 253.72h0.01M404.8 247.79h0.01M404.95 245.71h0.01M405.11 239.66h0.01M405.27 233.6h0.01M405.43 225.86h0.01M405.58 219.08h0.01M405.74 214.68h0.01M405.9 214.29h0.01M406.05 218.26h0.01M406.21 225.01h0.01M406.37 230.2h0.01M406.53 236.52h0.01M406.68 239.79h0.01M406.84 246.5h0.01M407 252.27h0.01M407.15 249.9h0.01M407.31 256.43h0.01M407.47 259.06h0.01M407.62 258.28h0.01M407.78 259.73h0.01M407.94 262.73h0.01M408.1 263.81h0.01M408.25 263.87h0.01M408.41 262.28h0.01M408.57 264h0.01M408.72 264.71h0.01M408.88 264.16h0.01M409.04 263.1h0.01M409.2 265.68h0.01M409.35 264.79h0.01M409.51 265.79h0.01M409.67 262.41h0.01M409.82 262.77h0.01M409.98 263.62h0.01M410.14 264.68h0.01M410.3 263.92h0.01M410.45 266.58h0.01M410.61 264.3h0.01M410.77 265.86h0.01M410.92 265.85h0.01M411.08 265.25h0.01M411.24 264.91h0.01M411.39 264.02h0.01M411.55 263.9h0.01M411.71 264.32h0.01M411.87 265.48h0.01M412.02 263.93h0.01M412.18 264.69h0.01M412.34 263.44h0.01M412.49 265.46h0.01M412.65 267.23h0.01M412.81 265.03h0.01M412.97 262.51h0.01M413.12 264.13h0.01M413.28 264.76h0.01M413.44 263.73h0.01M413.59 264.09h0.01M413.75 264.13h0.01M413.91 265.07h0.01M414.07 264.5h0.01M414.22 264.38h0.01M414.38 265.19h0.01M414.54 265.65h0.01M414.69 264.43h0.01M414.85 263.63h0.01M415.01 263.93h0.01M415.16 264.07h0.01M415.32 264.05h0.01M415.48 262.03h0.01M415.64 264.24h0.01M415.79 263.46h0.01M415.95 262.53h0.01M416.11 264.29h0.01M416.26 263.99h0.01M416.42 263.11h0.01M416.58 262.34h0.01M416.74 263.42h0.01M416.89 263.02h0.01M417.05 262.84h0.01M417.21 263.53h0.01M417.36 260.3h0.01M417.52 260.72h0.01M417.68 260.98h0.01M417.84 257.64h0.01M417.99 256.83h0.01M418.15 253.71h0.01M418.31 250.33h0.01M418.46 246.34h0.01M418.62 239.59h0.01M418.78 234.47h0.01M418.93 230.18h0.01M419.09 218.79h0.01M419.25 212.92h0.01M419.41 207.68h0.01M419.56 213.36h0.01M419.72 220h0.01M419.88 226.28h0.01M420.03 232.91h0.01M420.19 239.76h0.01M420.35 244.43h0.01M420.51 249.31h0.01M420.66 252.29h0.01M420.82 255.58h0.01M420.98 255.35h0.01M421.13 259.51h0.01M421.29 260.34h0.01M421.45 261.36h0.01M421.61 261.68h0.01M421.76 262.35h0.01M421.92 262.87h0.01M422.08 262.67h0.01M422.23 265.32h0.01M422.39 264.09h0.01M422.55 265.41h0.01M422.7 264.11h0.01M422.86 265.53h0.01M423.02 265.36h0.01M423.18 264.54h0.01M423.33 263.16h0.01M423.49 263.97h0.01M423.65 264.25h0.01M423.8 263.19h0.01M423.96 265.46h0.01M424.12 266.57h0.01M424.28 264.96h0.01M424.43 264.83h0.01M424.59 263.37h0.01M424.75 262.5h0.01M424.9 265.84h0.01M425.06 262.18h0.01M425.22 263.06h0.01M425.38 263.76h0.01M425.53 264.21h0.01M425.69 262.23h0.01M425.85 264.49h0.01M426 265.02h0.01M426.16 264.43h0.01M426.32 265.88h0.01M426.47 264.11h0.01M426.63 264.67h0.01M426.79 264.24h0.01M426.95 264.22h0.01M427.1 265.58h0.01M427.26 263.3h0.01M427.42 265.54h0.01M427.57 263.71h0.01M427.73 266.09h0.01M427.89 264.2h0.01M428.05 265.34h0.01M428.2 264.51h0.01M428.36 265.18h0.01M428.52 266.64h0.01M428.67 265.61h0.01M428.83 264.46h0.01M428.99 263.91h0.01M429.15 265.89h0.01M429.3 266.49h0.01M429.46 265.24h0.01M429.62 264.54h0.01M429.77 264.86h0.01M429.93 264.9h0.01M430.09 263.16h0.01M430.24 262.8h0.01M430.4 262.73h0.01M430.56 263.95h0.01M430.72 262.4h0.01M430.87 261.95h0.01M431.03 262.38h0.01M431.19 258.42h0.01M431.34 257.88h0.01M431.5 256.87h0.01M431.66 251.69h0.01M431.82 249.51h0.01M431.97 245.39h0.01M432.13 239.99h0.01M432.29 236.15h0.01M432.44 233.99h0.01M432.6 223.16h0.01M432.76 214.04h0.01M432.92 208.12h0.01M433.07 212.71h0.01M433.23 218.6h0.01M433.39 224.04h0.01M433.54 231.71h0.01M433.7 238h0.01M433.86 243.86h0.01M434.01 247.78h0.01M434.17 250.63h0.01M434.33 255.06h0.01M434.49 255.62h0.01M434.64 258.34h0.01M434.8 260.99h0.01M434.96 260h0.01M435.11 262.28h0.01M435.27 262.1h0.01M435.43 264.67h0.01M435.59 263.62h0.01M435.74 264.75h0.01M435.9 265.01h0.01M436.06 266.03h0.01M436.21 262.24h0.01M436.37 264.52h0.01M436.53 264.21h0.01M436.69 263.41h0.01M436.84 264.61h0.01M437 264.03h0.01M437.16 265.84h0.01M437.31 264.36h0.01M437.47 264.95h0.01M437.63 264.07h0.01M437.78 264.39h0.01M437.94 265.89h0.01M438.1 266.34h0.01M438.26 265.54h0.01M438.41 263.86h0.01M438.57 264.16h0.01M438.73 264.18h0.01M438.88 266.51h0.01M439.04 267.15h0.01M439.2 265.17h0.01M439.36 264.89h0.01M439.51 265.15h0.01M439.67 264.23h0.01M439.83 264.73h0.01M439.98 265.71h0.01M440.14 265.42h0.01M440.3 264.43h0.01M440.46 264.5h0.01M440.61 264.64h0.01M440.77 262.39h0.01M440.93 264.82h0.01M441.08 264.46h0.01M441.24 265.53h0.01M441.4 264.91h0.01M441.55 264.06h0.01M441.71 264.02h0.01M441.87 264.71h0.01M442.03 264.18h0.01M442.18 264.5h0.01M442.34 266.35h0.01M442.5 267.68h0.01M442.65 262.28h0.01M442.81 263.68h0.01M442.97 264.49h0.01M443.13 266.04h0.01M443.28 265.51h0.01M443.44 262.88h0.01M443.6 266.68h0.01M443.75 264.15h0.01M443.91 262.72h0.01M444.07 262.99h0.01M444.23 261.89h0.01M444.38 262.07h0.01M444.54 258.8h0.01M444.7 260.87h0.01M444.85 259.8h0.01M445.01 256.6h0.01M445.17 252.43h0.01M445.32 251.47h0.01M445.48 246.38h0.01M445.64 242.78h0.01M445.8 238.51h0.01M445.95 227.11h0.01M446.11 224.48h0.01M446.27 216.61h0.01M446.42 210.5h0.01M286.3 261.77h0.01M286.57 263.38h0.01M286.84 262.74h0.01M287.11 264.71h0.01M287.39 264.13h0.01M287.66 263.85h0.01M287.93 266.31h0.01M288.2 265.8h0.01M288.47 263.85h0.01M288.74 264.47h0.01M289.01 266.32h0.01M289.28 265.28h0.01M289.55 265.57h0.01M289.82 265.03h0.01M290.09 263.1h0.01M290.36 265.12h0.01M290.64 262.64h0.01M290.91 264.81h0.01M291.18 265.26h0.01M291.45 263.08h0.01M291.72 263.66h0.01M291.99 263.25h0.01M292.26 262.71h0.01M292.53 263.54h0.01M292.8 263.39h0.01M293.07 266.17h0.01M293.34 265.31h0.01M293.61 264.07h0.01M293.89 264.25h0.01M294.16 263.67h0.01M294.43 264.64h0.01M294.7 262.86h0.01M294.97 261.54h0.01M295.24 262.14h0.01M299.84 261.9h0.01M300.11 262.97h0.01M300.39 263.03h0.01M300.66 263.97h0.01M300.93 264.81h0.01M301.2 264.23h0.01M301.47 264.37h0.01M301.74 265.95h0.01M302.01 264.29h0.01M302.28 264.5h0.01M302.55 264.33h0.01M302.82 265.05h0.01M303.09 264.07h0.01M303.36 263.94h0.01M303.64 265.2h0.01M303.91 264.22h0.01M304.18 263.79h0.01M304.45 263.83h0.01M304.72 265.41h0.01M304.99 265.51h0.01M305.26 264.51h0.01M305.53 265.54h0.01M305.8 262.16h0.01M306.07 265.31h0.01M306.34 265.3h0.01M306.61 263.92h0.01M306.89 264.97h0.01M307.16 266.73h0.01M307.43 264.59h0.01M307.7 265.31h0.01M307.97 264.72h0.01M308.24 265.49h0.01M308.51 264.36h0.01M308.78 262.9h0.01M313.39 262.82h0.01M313.66 264.57h0.01M313.93 264.66h0.01M314.2 265.06h0.01M314.47 264.28h0.01M314.74 264.64h0.01M315.01 265.74h0.01M315.28 263.98h0.01M315.55 265.27h0.01M315.82 264.24h0.01M316.09 265.49h0.01M316.36 264.34h0.01M316.64 264.74h0.01M316.91 264.58h0.01M317.18 264.15h0.01M317.45 264.21h0.01M317.72 264.47h0.01M317.99 264.48h0.01M318.26 265.84h0.01M318.53 264.7h0.01M318.8 266.71h0.01M319.07 266.76h0.01M319.34 264.93h0.01M319.61 264.84h0.01M319.89 263.2h0.01M320.16 263.98h0.01M320.43 263.55h0.01M320.7 264.86h0.01M320.97 264.1h0.01M321.24 263.32h0.01M321.51 263.77h0.01M321.78 263.66h0.01M322.05 263.44h0.01M322.32 263.64h0.01M326.93 263.62h0.01M327.2 264.89h0.01M327.47 263.6h0.01M327.74 264.51h0.01M328.01 265.05h0.01M328.28 264.16h0.01M328.55 265.09h0.01M328.82 263.58h0.01M329.09 262.78h0.01M329.36 264.17h0.01M329.64 265.25h0.01M329.91 266.02h0.01M330.18 262.69h0.01M330.45 264.17h0.01M330.72 265.72h0.01M330.99 263.58h0.01M331.26 266.18h0.01M331.53 265.02h0.01M331.8 264.82h0.01M332.07 264.94h0.01M332.34 265.68h0.01M332.61 262.32h0.01M332.89 264.97h0.01M333.16 264.23h0.01M333.43 264.55h0.01M333.7 266.1h0.01M333.97 265.09h0.01M334.24 264.34h0.01M334.51 263.6h0.01M334.78 264.72h0.01M335.05 263.89h0.01M335.32 264.29h0.01M335.59 262.95h0.01M335.86 265.1h0.01M340.47 262.17h0.01M340.74 264.1h0.01M341.01 264.52h0.01M341.28 266.95h0.01M341.55 265.41h0.01M341.82 263.9h0.01M342.09 262.33h0.01M342.36 265.23h0.01M342.64 265.2h0.01M342.91 264.11h0.01M343.18 264.31h0.01M343.45 265.15h0.01M343.72 264.75h0.01M343.99 264.95h0.01M344.26 263.99h0.01M344.53 263.83h0.01M344.8 262.9h0.01M345.07 263.71h0.01M345.34 263.95h0.01M345.61 264.43h0.01M345.89 263.69h0.01M346.16 265.52h0.01M346.43 262.52h0.01M346.7 264.31h0.01M346.97 263.22h0.01M347.24 265.32h0.01M347.51 263.56h0.01M347.78 264.14h0.01M348.05 264.65h0.01M348.32 265.02h0.01M348.59 265.06h0.01M348.86 262.23h0.01M349.14 262.32h0.01M349.41 262.62h0.01M354.01 262.54h0.01M354.28 264.19h0.01M354.55 265.71h0.01M354.82 265.94h0.01M355.09 264.96h0.01M355.36 264.61h0.01M355.64 265.64h0.01M355.91 263.78h0.01M356.18 264.07h0.01M356.45 264.41h0.01M356.72 266.26h0.01M356.99 264.78h0.01M357.26 264.6h0.01M357.53 265.79h0.01M357.8 266.67h0.01M358.07 262.74h0.01M358.34 263.98h0.01M358.61 264.95h0.01M358.89 263.04h0.01M359.16 263.51h0.01M359.43 264.15h0.01M359.7 264.36h0.01M359.97 263.83h0.01M360.24 263.17h0.01M360.51 264.51h0.01M360.78 264.8h0.01M361.05 264.01h0.01M361.32 267.28h0.01M361.59 264.48h0.01M361.86 264.95h0.01M362.14 264.56h0.01M362.41 264.69h0.01M362.68 264.14h0.01M362.95 264.29h0.01M363.22 264.2h0.01M363.49 264.2h0.01M363.76 263.33h0.01M364.03 263.8h0.01M364.3 261.71h0.01M364.57 263.38h0.01M365.93 261.56h0.01M366.2 262.22h0.01M366.47 264.53h0.01M366.74 264.18h0.01M367.01 262.8h0.01M367.28 264.39h0.01M367.55 265.24h0.01M367.82 267.33h0.01M368.09 264.19h0.01M368.36 264.44h0.01M368.64 263.97h0.01M368.91 262.59h0.01M369.18 264.57h0.01M369.45 264.44h0.01M369.72 265.23h0.01M369.99 264.63h0.01M370.26 264.6h0.01M370.53 263.85h0.01M370.8 264.04h0.01M371.07 265.31h0.01M371.34 265.03h0.01M371.61 263.25h0.01M371.89 265.5h0.01M372.16 263.86h0.01M372.43 263.01h0.01M372.7 263.95h0.01M372.97 264.33h0.01M373.24 263.26h0.01M373.51 264.23h0.01M373.78 264.58h0.01M374.05 264.76h0.01M374.32 263.46h0.01M374.59 263.88h0.01M374.86 263.03h0.01M375.14 264.79h0.01M375.41 264.68h0.01M375.68 264.64h0.01M375.95 263.68h0.01M376.22 264.16h0.01M376.49 261.84h0.01M381.09 262.4h0.01M381.36 264.43h0.01M381.64 266.8h0.01M381.91 265.98h0.01M382.18 262.99h0.01M382.45 264.53h0.01M382.72 264.38h0.01M382.99 264.95h0.01M383.26 264.18h0.01M383.53 266.42h0.01M383.8 266.5h0.01M384.07 266.15h0.01M384.34 264.51h0.01M384.61 263.9h0.01M384.89 264.12h0.01M385.16 264.7h0.01M385.43 265.81h0.01M385.7 263.81h0.01M385.97 264.85h0.01M386.24 264.6h0.01M386.51 264.65h0.01M386.78 265.03h0.01M387.05 265.27h0.01M387.32 265.14h0.01M387.59 265.81h0.01M387.86 264.32h0.01M388.14 264.72h0.01M388.41 263.54h0.01M388.68 266.21h0.01M388.95 263.25h0.01M389.22 264.29h0.01M389.49 264.11h0.01M389.76 264.27h0.01M390.03 263.52h0.01M394.64 264.17h0.01M394.91 262.63h0.01M395.18 264.16h0.01M395.45 263.53h0.01M395.72 263.59h0.01M395.99 264.95h0.01M396.26 264.75h0.01M396.53 264.88h0.01M396.8 263.58h0.01M397.07 264.44h0.01M397.34 264.41h0.01M397.61 263.88h0.01M397.89 264.65h0.01M398.16 262.61h0.01M398.43 265.47h0.01M398.7 263.37h0.01M398.97 263.23h0.01M399.24 265.68h0.01M399.51 263.75h0.01M399.78 264.31h0.01M400.05 263.74h0.01M400.32 265.73h0.01M400.59 264.34h0.01M400.86 265.51h0.01M401.14 264.89h0.01M401.41 263.19h0.01M401.68 264.67h0.01M401.95 266.68h0.01M402.22 265.81h0.01M402.49 265.47h0.01M402.76 263.24h0.01M403.03 264.62h0.01M403.3 264.99h0.01M403.57 261.65h0.01M408.18 262.49h0.01M408.45 263.16h0.01M408.72 264.72h0.01M408.99 262.85h0.01M409.26 264.5h0.01M409.53 266.36h0.01M409.8 265.61h0.01M410.07 265.35h0.01M410.34 264.71h0.01M410.61 263.83h0.01M410.89 265.27h0.01M411.16 265.15h0.01M411.43 262.46h0.01M411.7 264.5h0.01M411.97 265.08h0.01M412.24 264.54h0.01M412.51 265.78h0.01M412.78 264.06h0.01M413.05 263.64h0.01M413.32 265.14h0.01M413.59 263.61h0.01M413.86 264.85h0.01M414.14 264.3h0.01M414.41 265.28h0.01M414.68 265.34h0.01M414.95 266h0.01M415.22 264.33h0.01M415.49 264.79h0.01M415.76 264.71h0.01M416.03 265.46h0.01M416.3 265.34h0.01M416.57 264.56h0.01M416.84 263.04h0.01M417.11 262.44h0.01M421.72 263.38h0.01M421.99 263.21h0.01M422.26 262.26h0.01M422.53 264.12h0.01M422.8 262.43h0.01M423.07 264.05h0.01M423.34 263.24h0.01M423.61 265.05h0.01M423.89 263.43h0.01M424.16 265.71h0.01M424.43 264.34h0.01M424.7 264.9h0.01M424.97 266.5h0.01M425.24 265.89h0.01M425.51 263.49h0.01M425.78 264.11h0.01M426.05 263.33h0.01M426.32 264.39h0.01M426.59 267.37h0.01M426.86 264.34h0.01M427.14 265.12h0.01M427.41 265.06h0.01M427.68 265.01h0.01M427.95 265.31h0.01M428.22 265.49h0.01M428.49 263.37h0.01M428.76 264.12h0.01M429.03 265.15h0.01M429.3 264.88h0.01M429.57 263.44h0.01M429.84 263.86h0.01M430.11 263.77h0.01M430.39 264.67h0.01M430.66 263.15h0.01M435.26 263.82h0.01M435.53 265.34h0.01M435.8 263.1h0.01M436.07 264.54h0.01M436.34 264.78h0.01M436.61 265.4h0.01M436.89 263.8h0.01M437.16 262.54h0.01M437.43 264h0.01M437.7 263.68h0.01M437.97 265.78h0.01M438.24 264.41h0.01M438.51 264.37h0.01M438.78 263.15h0.01M439.05 264.57h0.01M439.32 265.49h0.01M439.59 264.65h0.01M439.86 265h0.01M440.14 263.19h0.01M440.41 263.95h0.01M440.68 264.26h0.01M440.95 264.41h0.01M441.22 263.77h0.01M441.49 265.05h0.01M441.76 265.46h0.01M442.03 266.38h0.01M442.3 263.41h0.01M442.57 264.04h0.01M442.84 263.86h0.01M443.11 264.35h0.01M443.39 262.63h0.01M443.66 264.91h0.01M443.93 262.35h0.01M444.2 263.55h0.01M351.6 193.5h0.01M338.5 201.4h0.01M405.9 197.8h0.01M405.9 204.7h0.01" stroke="#1f2b62" stroke-width="1.0" stroke-linecap="round" fill="none"/>
</g>
<text x="280.2" y="268.65" font-size="10" text-anchor="end" fill="#262626" >0</text>
<text x="280.2" y="240.37" font-size="10" text-anchor="end" fill="#262626" >0.5</text>
<text x="280.2" y="212.08" font-size="10" text-anchor="end" fill="#262626" >1</text>
<text x="280.2" y="183.8" font-size="10" text-anchor="end" fill="#262626" >1.5</text>
<text x="311.08" y="278.6" font-size="10" text-anchor="middle" fill="#262626" >-1000</text>
<text x="365.25" y="278.6" font-size="10" text-anchor="middle" fill="#262626" >0</text>
<text x="419.42" y="278.6" font-size="10" text-anchor="middle" fill="#262626" >1000</text>
<text transform="translate(365.25,292.7) scale(1,1.07)" x="0" y="0" font-size="11.3" text-anchor="middle" fill="#262626">Delay (ns)</text>
<text transform="translate(262.7,220.73) rotate(-90)" font-size="11.3" text-anchor="middle" fill="#262626"><tspan font-style="italic">g</tspan><tspan font-size="8.4" dy="-6.3">(2)</tspan></text>
<text x="288.6" y="195.2" font-size="10" fill="#262626" textLength="60.3" lengthAdjust="spacingAndGlyphs"><tspan font-style="italic">g</tspan><tspan font-size="5.6" dy="-4.2">(2)</tspan><tspan dy="4.2">(0)=0.1 (1)</tspan></text>
<path d="M548.23 179.5V264.6M602.7 179.5V264.6M657.17 179.5V264.6M521 236.23H684.4M521 207.87H684.4" stroke="#e3e3e3" stroke-width="1" fill="none"/>
<rect x="521" y="179.5" width="163.4" height="85.1" fill="none" stroke="#8f8f8f" stroke-width="1"/>
<path d="M548.23 264.6v-2.0M548.23 179.5v2.0M602.7 264.6v-2.0M602.7 179.5v2.0M657.17 264.6v-2.0M657.17 179.5v2.0M521 236.23h2.0M684.4 236.23h-2.0M521 207.87h2.0M684.4 207.87h-2.0" stroke="#8f8f8f" stroke-width="1" fill="none"/>
<g clip-path="url(#cpf)">
<path d="M521 207.87 L521.76 239.3 L522.31 253.46 L522.63 258.16 L523.02 261.34 L523.48 263.25 L523.78 263.86 L524.13 264.24 L524.7 264.5 L525.6 264.59 L529.88 264.59 L531.05 264.46 L531.57 264.18 L531.95 263.68 L532.27 262.84 L532.55 261.65 L532.85 259.52 L533.12 256.47 L533.58 247.53 L533.96 235.31 L534.62 207.87 L535.35 238.34 L535.87 252.44 L536.2 257.52 L536.55 260.82 L536.99 262.93 L537.26 263.62 L537.56 264.07 L538.1 264.43 L538.95 264.57 L543.36 264.59 L544.58 264.48 L545.13 264.22 L545.54 263.72 L545.86 262.93 L546.14 261.8 L546.44 259.76 L546.71 256.83 L547.2 247.53 L547.58 235.31 L548.23 207.87 L548.94 237.36 L549.4 250.76 L549.68 255.69 L550 259.52 L550.36 261.94 L550.79 263.45 L551.34 264.22 L552.13 264.53 L555.97 264.6 L558.01 264.52 L558.64 264.3 L559.07 263.86 L559.43 263.1 L559.73 261.94 L560.05 259.76 L560.32 256.83 L560.82 247.53 L561.2 235.31 L561.85 207.87 L562.5 235.31 L562.88 247.53 L563.38 256.83 L563.65 259.76 L563.95 261.8 L564.25 263.02 L564.57 263.77 L564.98 264.24 L565.55 264.5 L566.89 264.6 L571.33 264.56 L572.14 264.36 L572.69 263.86 L573.18 262.65 L573.59 260.42 L573.94 256.83 L574.24 251.9 L574.73 238.34 L575.47 207.87 L576.12 235.31 L576.5 247.53 L576.99 256.83 L577.26 259.76 L577.56 261.8 L577.84 262.93 L578.16 263.72 L578.57 264.22 L579.09 264.48 L580.29 264.59 L584.62 264.58 L585.49 264.47 L586.03 264.18 L586.36 263.77 L586.63 263.18 L587.1 261.17 L587.48 257.85 L587.8 252.96 L588.32 239.3 L589.08 207.87 L590.04 245.32 L590.44 254.4 L590.94 260.21 L591.45 262.93 L591.78 263.72 L592.19 264.22 L592.62 264.45 L593.22 264.56 L596.33 264.6 L599.76 264.55 L600.44 264.39 L600.93 264.09 L601.39 263.49 L601.77 262.59 L602.7 258.93 L603.38 261.77 L603.79 263.03 L604.31 263.92 L604.99 264.4 L605.59 264.54 L606.51 264.59 L612.37 264.54 L612.91 264.4 L613.29 264.15 L613.59 263.77 L613.87 263.18 L614.27 261.5 L614.6 259.01 L615.17 250.16 L615.61 237.36 L616.32 207.87 L617.08 239.3 L617.6 252.96 L617.92 257.85 L618.3 261.17 L618.77 263.18 L619.04 263.77 L619.37 264.18 L619.91 264.47 L620.78 264.58 L625.11 264.59 L626.31 264.48 L626.83 264.22 L627.24 263.72 L627.56 262.93 L627.84 261.8 L628.14 259.76 L628.41 256.83 L628.9 247.53 L629.28 235.31 L629.93 207.87 L630.67 238.34 L631.16 251.9 L631.46 256.83 L631.81 260.42 L632.22 262.65 L632.71 263.86 L633.26 264.36 L634.07 264.56 L638.51 264.6 L639.85 264.5 L640.42 264.24 L640.83 263.77 L641.15 263.02 L641.45 261.8 L641.75 259.76 L642.02 256.83 L642.52 247.53 L642.9 235.31 L643.55 207.87 L644.2 235.31 L644.58 247.53 L645.08 256.83 L645.35 259.76 L645.67 261.94 L645.97 263.1 L646.33 263.86 L646.76 264.3 L647.39 264.52 L649.43 264.6 L653.27 264.53 L654.06 264.22 L654.61 263.45 L655.04 261.94 L655.4 259.52 L655.72 255.69 L656 250.76 L656.46 237.36 L657.17 207.87 L657.82 235.31 L658.2 247.53 L658.69 256.83 L658.96 259.76 L659.26 261.8 L659.54 262.93 L659.86 263.72 L660.27 264.22 L660.82 264.48 L662.04 264.59 L666.45 264.57 L667.3 264.43 L667.84 264.07 L668.14 263.62 L668.41 262.93 L668.85 260.82 L669.2 257.52 L669.53 252.44 L670.05 238.34 L670.78 207.87 L671.44 235.31 L671.82 247.53 L672.28 256.47 L672.55 259.52 L672.85 261.65 L673.13 262.84 L673.45 263.68 L673.83 264.18 L674.32 264.45 L675.47 264.59 L679.63 264.59 L680.61 264.51 L681.19 264.3 L681.54 263.97 L681.84 263.45 L682.33 261.65 L682.74 258.45 L683.07 253.94 L683.64 239.3 L684.4 207.87" fill="none" stroke="#e2779b" stroke-width="1.25" stroke-linejoin="round" />
<path d="M521 209.64h0.01M521.16 211.69h0.01M521.32 219.77h0.01M521.47 227.17h0.01M521.63 234.09h0.01M521.79 242.63h0.01M521.95 245.39h0.01M522.11 250.93h0.01M522.26 252.54h0.01M522.42 254.82h0.01M522.58 257.56h0.01M522.74 258.93h0.01M522.9 262.66h0.01M523.05 261.68h0.01M523.21 263.31h0.01M523.37 261.4h0.01M523.53 262.75h0.01M523.69 263.01h0.01M523.84 264.26h0.01M524 263.74h0.01M524.16 263.84h0.01M524.32 264.92h0.01M524.47 265.13h0.01M524.63 264.83h0.01M524.79 265.32h0.01M524.95 265.34h0.01M525.11 265.06h0.01M525.26 265.5h0.01M525.42 264.07h0.01M525.58 266.35h0.01M525.74 264.02h0.01M525.9 265.42h0.01M526.05 265.35h0.01M526.21 266.13h0.01M526.37 264.96h0.01M526.53 265.06h0.01M526.69 264.64h0.01M526.84 265.34h0.01M527 264.74h0.01M527.16 263.07h0.01M527.32 264.43h0.01M527.48 265.38h0.01M527.63 263.91h0.01M527.79 264.95h0.01M527.95 264.25h0.01M528.11 264.24h0.01M528.27 265.2h0.01M528.42 266.69h0.01M528.58 265.16h0.01M528.74 264.29h0.01M528.9 265.19h0.01M529.06 264.4h0.01M529.21 263.88h0.01M529.37 265.35h0.01M529.53 263.64h0.01M529.69 263.26h0.01M529.85 263.78h0.01M530 263.69h0.01M530.16 263.75h0.01M530.32 262.63h0.01M530.48 264.61h0.01M530.64 264.77h0.01M530.79 264.16h0.01M530.95 265.59h0.01M531.11 266.16h0.01M531.27 265.45h0.01M531.42 264.14h0.01M531.58 263.93h0.01M531.74 265.7h0.01M531.9 265.83h0.01M532.06 264.03h0.01M532.21 263.45h0.01M532.37 262.78h0.01M532.53 261.3h0.01M532.69 259.83h0.01M532.85 259.59h0.01M533 257.09h0.01M533.16 257.05h0.01M533.32 254.2h0.01M533.48 250.48h0.01M533.64 245.1h0.01M533.79 240.02h0.01M533.95 234.98h0.01M534.11 229.71h0.01M534.27 220.06h0.01M534.43 217.92h0.01M534.58 212.17h0.01M534.74 214.42h0.01M534.9 218.75h0.01M535.06 228.68h0.01M535.22 231.48h0.01M535.37 239.24h0.01M535.53 243.82h0.01M535.69 248.29h0.01M535.85 251.46h0.01M536.01 256.45h0.01M536.16 256.56h0.01M536.32 259.2h0.01M536.48 261.36h0.01M536.64 261.84h0.01M536.8 264.59h0.01M536.95 263.68h0.01M537.11 263.3h0.01M537.27 264.62h0.01M537.43 264.47h0.01M537.59 264.48h0.01M537.74 264.42h0.01M537.9 263.6h0.01M538.06 264.67h0.01M538.22 264.94h0.01M538.37 264.22h0.01M538.53 262.76h0.01M538.69 265.11h0.01M538.85 264.3h0.01M539.01 266.33h0.01M539.16 263.51h0.01M539.32 264.18h0.01M539.48 263.53h0.01M539.64 264.88h0.01M539.8 265.83h0.01M539.95 263.97h0.01M540.11 264.1h0.01M540.27 265.66h0.01M540.43 266.25h0.01M540.59 264.39h0.01M540.74 264.99h0.01M540.9 262.31h0.01M541.06 265.42h0.01M541.22 265.34h0.01M541.38 264.93h0.01M541.53 266.43h0.01M541.69 265.68h0.01M541.85 263.24h0.01M542.01 264.95h0.01M542.17 265.41h0.01M542.32 266.05h0.01M542.48 264.27h0.01M542.64 264.19h0.01M542.8 264.58h0.01M542.96 265.2h0.01M543.11 264.53h0.01M543.27 264.45h0.01M543.43 265.48h0.01M543.59 264.21h0.01M543.75 266.85h0.01M543.9 266.05h0.01M544.06 265.09h0.01M544.22 264.88h0.01M544.38 265.88h0.01M544.54 264.41h0.01M544.69 263.66h0.01M544.85 264.19h0.01M545.01 264.32h0.01M545.17 263.61h0.01M545.32 263.86h0.01M545.48 265.14h0.01M545.64 263.92h0.01M545.8 262.14h0.01M545.96 263.99h0.01M546.11 262.09h0.01M546.27 261.83h0.01M546.43 260.78h0.01M546.59 259.39h0.01M546.75 256.32h0.01M546.9 254.13h0.01M547.06 250.9h0.01M547.22 248.58h0.01M547.38 243.58h0.01M547.54 237.77h0.01M547.69 230.24h0.01M547.85 223.15h0.01M548.01 216.85h0.01M548.17 207.89h0.01M548.33 207.67h0.01M548.48 217.9h0.01M548.64 225.38h0.01M548.8 233.07h0.01M548.96 239.19h0.01M549.12 244.89h0.01M549.27 245.58h0.01M549.43 252.56h0.01M549.59 256.88h0.01M549.75 257.12h0.01M549.91 257.38h0.01M550.06 260.29h0.01M550.22 261.23h0.01M550.38 262.37h0.01M550.54 262.97h0.01M550.7 262.22h0.01M550.85 263.06h0.01M551.01 264.18h0.01M551.17 263.46h0.01M551.33 263.4h0.01M551.48 264.77h0.01M551.64 264.37h0.01M551.8 264.44h0.01M551.96 265.37h0.01M552.12 263.65h0.01M552.27 264.94h0.01M552.43 265.39h0.01M552.59 266.42h0.01M552.75 266.03h0.01M552.91 263.34h0.01M553.06 265.92h0.01M553.22 264.41h0.01M553.38 265.18h0.01M553.54 264.33h0.01M553.7 264.24h0.01M553.85 265.57h0.01M554.01 265.11h0.01M554.17 264.73h0.01M554.33 264.72h0.01M554.49 264.85h0.01M554.64 265.13h0.01M554.8 264.22h0.01M554.96 263.56h0.01M555.12 264.31h0.01M555.28 265.54h0.01M555.43 264.44h0.01M555.59 264.77h0.01M555.75 264.38h0.01M555.91 263.05h0.01M556.07 265.03h0.01M556.22 264.84h0.01M556.38 265.68h0.01M556.54 265.1h0.01M556.7 265.37h0.01M556.86 263.28h0.01M557.01 264.53h0.01M557.17 265.37h0.01M557.33 262.95h0.01M557.49 266.08h0.01M557.65 263.96h0.01M557.8 263.8h0.01M557.96 264.21h0.01M558.12 264.99h0.01M558.28 264.81h0.01M558.43 264.96h0.01M558.59 263.79h0.01M558.75 266.67h0.01M558.91 264.8h0.01M559.07 263.94h0.01M559.22 264.33h0.01M559.38 265.21h0.01M559.54 263.17h0.01M559.7 263.09h0.01M559.86 260.59h0.01M560.01 258.79h0.01M560.17 258.95h0.01M560.33 259.02h0.01M560.49 254.82h0.01M560.65 251.98h0.01M560.8 247.6h0.01M560.96 242.48h0.01M561.12 238.1h0.01M561.28 229.13h0.01M561.44 225.72h0.01M561.59 217.64h0.01M561.75 209.81h0.01M561.91 209.5h0.01M562.07 218.03h0.01M562.23 221.48h0.01M562.38 231.65h0.01M562.54 233.77h0.01M562.7 241.68h0.01M562.86 248.97h0.01M563.02 250.06h0.01M563.17 252.95h0.01M563.33 254.79h0.01M563.49 259.47h0.01M563.65 260.77h0.01M563.81 261.17h0.01M563.96 262.87h0.01M564.12 264.07h0.01M564.28 264.29h0.01M564.44 261.13h0.01M564.6 264.5h0.01M564.75 265.11h0.01M564.91 264.71h0.01M565.07 264.43h0.01M565.23 263.27h0.01M565.38 263.66h0.01M565.54 263.86h0.01M565.7 264.61h0.01M565.86 264.52h0.01M566.02 265.31h0.01M566.17 266.16h0.01M566.33 262.75h0.01M566.49 265.16h0.01M566.65 263.75h0.01M566.81 265.03h0.01M566.96 264.82h0.01M567.12 264.88h0.01M567.28 266.06h0.01M567.44 264.81h0.01M567.6 264.37h0.01M567.75 263.94h0.01M567.91 264.26h0.01M568.07 263.75h0.01M568.23 264.45h0.01M568.39 264.75h0.01M568.54 266.64h0.01M568.7 265.26h0.01M568.86 263.24h0.01M569.02 264.63h0.01M569.18 263.98h0.01M569.33 264.95h0.01M569.49 265.39h0.01M569.65 262.77h0.01M569.81 264.4h0.01M569.97 263.3h0.01M570.12 264.23h0.01M570.28 265.03h0.01M570.44 266.91h0.01M570.6 264.65h0.01M570.76 266.25h0.01M570.91 266.88h0.01M571.07 263.53h0.01M571.23 264.02h0.01M571.39 264.08h0.01M571.55 264.64h0.01M571.7 264.69h0.01M571.86 264.21h0.01M572.02 264.42h0.01M572.18 264.43h0.01M572.33 263.68h0.01M572.49 266.62h0.01M572.65 263.18h0.01M572.81 264.43h0.01M572.97 262.73h0.01M573.12 261.83h0.01M573.28 263.2h0.01M573.44 260.9h0.01M573.6 259.79h0.01M573.76 259.51h0.01M573.91 258.23h0.01M574.07 255.37h0.01M574.23 254.51h0.01M574.39 250.78h0.01M574.55 244.71h0.01M574.7 239.24h0.01M574.86 234.67h0.01M575.02 226.9h0.01M575.18 218.72h0.01M575.34 211.57h0.01M575.49 207.56h0.01M575.65 215.41h0.01M575.81 220.54h0.01M575.97 230.66h0.01M576.13 236.21h0.01M576.28 241.47h0.01M576.44 245.49h0.01M576.6 250.21h0.01M576.76 255.89h0.01M576.92 254.68h0.01M577.07 257.83h0.01M577.23 258.71h0.01M577.39 260.89h0.01M577.55 261.68h0.01M577.71 261.06h0.01M577.86 266.09h0.01M578.02 262.15h0.01M578.18 263.82h0.01M578.34 266h0.01M578.5 266.96h0.01M578.65 264.19h0.01M578.81 265.58h0.01M578.97 263.69h0.01M579.13 264.5h0.01M579.28 264.87h0.01M579.44 263.81h0.01M579.6 264.6h0.01M579.76 264.08h0.01M579.92 264h0.01M580.07 264.5h0.01M580.23 264.05h0.01M580.39 264.06h0.01M580.55 266.14h0.01M580.71 265.09h0.01M580.86 264.94h0.01M581.02 265.19h0.01M581.18 266.36h0.01M581.34 265.37h0.01M581.5 264.5h0.01M581.65 264.64h0.01M581.81 263.36h0.01M581.97 265.41h0.01M582.13 265.24h0.01M582.29 265.38h0.01M582.44 265.13h0.01M582.6 265.41h0.01M582.76 266.63h0.01M582.92 264.49h0.01M583.08 263.87h0.01M583.23 263.74h0.01M583.39 265.87h0.01M583.55 265.01h0.01M583.71 263.04h0.01M583.87 264.93h0.01M584.02 264.49h0.01M584.18 264.97h0.01M584.34 263.85h0.01M584.5 263.88h0.01M584.66 262.56h0.01M584.81 264.32h0.01M584.97 264.35h0.01M585.13 265.94h0.01M585.29 265.14h0.01M585.44 265.38h0.01M585.6 264.98h0.01M585.76 265.85h0.01M585.92 263.33h0.01M586.08 265.39h0.01M586.23 263.94h0.01M586.39 265.17h0.01M586.55 263.22h0.01M586.71 261.66h0.01M586.87 263.47h0.01M587.02 261.48h0.01M587.18 260.94h0.01M587.34 259.4h0.01M587.5 257.34h0.01M587.66 256.62h0.01M587.81 253.17h0.01M587.97 249.79h0.01M588.13 246.05h0.01M588.29 242.08h0.01M588.45 234.01h0.01M588.6 228.93h0.01M588.76 219.84h0.01M588.92 214.95h0.01M589.08 207.59h0.01M589.24 211.39h0.01M589.39 219.13h0.01M589.55 226.39h0.01M589.71 232.18h0.01M589.87 243.18h0.01M590.03 246.43h0.01M590.18 249.45h0.01M590.34 250.43h0.01M590.5 256.01h0.01M590.66 258.77h0.01M590.82 258.61h0.01M590.97 260.86h0.01M591.13 261.87h0.01M591.29 263.48h0.01M591.45 265.22h0.01M591.61 264.29h0.01M591.76 264.93h0.01M591.92 265.76h0.01M592.08 265.4h0.01M592.24 265.41h0.01M592.39 263.83h0.01M592.55 263.98h0.01M592.71 264.22h0.01M592.87 265.26h0.01M593.03 265.99h0.01M593.18 264.51h0.01M593.34 264.36h0.01M593.5 263.85h0.01M593.66 264.85h0.01M593.82 264.95h0.01M593.97 264.53h0.01M594.13 265.73h0.01M594.29 265.61h0.01M594.45 264.22h0.01M594.61 266.05h0.01M594.76 264.91h0.01M594.92 264.08h0.01M595.08 264.61h0.01M595.24 264.42h0.01M595.4 265.9h0.01M595.55 264.95h0.01M595.71 265.09h0.01M595.87 264.25h0.01M596.03 264.42h0.01M596.19 264.8h0.01M596.34 262.99h0.01M596.5 264.3h0.01M596.66 265.1h0.01M596.82 265.41h0.01M596.98 264.85h0.01M597.13 265.37h0.01M597.29 263.23h0.01M597.45 264.26h0.01M597.61 265.11h0.01M597.77 265.44h0.01M597.92 265.84h0.01M598.08 265.07h0.01M598.24 263.54h0.01M598.4 263.99h0.01M598.56 264.85h0.01M598.71 264.66h0.01M598.87 266.59h0.01M599.03 264.06h0.01M599.19 265h0.01M599.34 263.45h0.01M599.5 264.94h0.01M599.66 265.22h0.01M599.82 264.53h0.01M599.98 265.33h0.01M600.13 263.38h0.01M600.29 264.35h0.01M600.45 264.22h0.01M600.61 264.2h0.01M600.77 264.73h0.01M600.92 263.83h0.01M601.08 263.98h0.01M601.24 262.23h0.01M601.4 263.57h0.01M601.56 263.09h0.01M601.71 263.31h0.01M601.87 262.81h0.01M602.03 262.15h0.01M602.19 260.16h0.01M602.35 260.54h0.01M602.5 259.05h0.01M602.66 259.23h0.01M602.82 259.95h0.01M602.98 261.99h0.01M603.14 260.18h0.01M603.29 259.75h0.01M603.45 262.33h0.01M603.61 261.23h0.01M603.77 262.22h0.01M603.93 264.15h0.01M604.08 263.01h0.01M604.24 264.83h0.01M604.4 264.44h0.01M604.56 263.12h0.01M604.72 264.23h0.01M604.87 265.62h0.01M605.03 263.18h0.01M605.19 265.66h0.01M605.35 264.79h0.01M605.51 264.99h0.01M605.66 264.84h0.01M605.82 265.51h0.01M605.98 266.28h0.01M606.14 262.92h0.01M606.29 265.63h0.01M606.45 265.58h0.01M606.61 267.08h0.01M606.77 264.64h0.01M606.93 263.49h0.01M607.08 263.38h0.01M607.24 262.06h0.01M607.4 263.28h0.01M607.56 264.33h0.01M607.72 264.7h0.01M607.87 263.34h0.01M608.03 264.76h0.01M608.19 264.53h0.01M608.35 265.65h0.01M608.51 264.63h0.01M608.66 262.82h0.01M608.82 264.79h0.01M608.98 264.34h0.01M609.14 267.04h0.01M609.3 263.43h0.01M609.45 264.37h0.01M609.61 263.37h0.01M609.77 264.5h0.01M609.93 265.56h0.01M610.09 266.05h0.01M610.24 264.26h0.01M610.4 264.77h0.01M610.56 265.69h0.01M610.72 264.82h0.01M610.88 265.38h0.01M611.03 264.08h0.01M611.19 265.17h0.01M611.35 265.96h0.01M611.51 264.87h0.01M611.67 265.33h0.01M611.82 263.36h0.01M611.98 265.23h0.01M612.14 266.05h0.01M612.3 264.83h0.01M612.45 265h0.01M612.61 264.47h0.01M612.77 264.49h0.01M612.93 265.65h0.01M613.09 264.61h0.01M613.24 264.55h0.01M613.4 265.42h0.01M613.56 264.65h0.01M613.72 263.64h0.01M613.88 264.94h0.01M614.03 263.83h0.01M614.19 262.69h0.01M614.35 261.27h0.01M614.51 259.58h0.01M614.67 259.81h0.01M614.82 256.61h0.01M614.98 253.61h0.01M615.14 250.02h0.01M615.3 247.81h0.01M615.46 244.2h0.01M615.61 238.02h0.01M615.77 231.24h0.01M615.93 223.34h0.01M616.09 220.91h0.01M616.25 211.46h0.01M616.4 208.28h0.01M616.56 217.41h0.01M616.72 227.38h0.01M616.88 231.31h0.01M617.04 238.29h0.01M617.19 244.59h0.01M617.35 247.7h0.01M617.51 251.32h0.01M617.67 255.1h0.01M617.83 256.72h0.01M617.98 256.78h0.01M618.14 261.54h0.01M618.3 260.78h0.01M618.46 261.18h0.01M618.62 262.85h0.01M618.77 263.09h0.01M618.93 264.05h0.01M619.09 262.74h0.01M619.25 265.2h0.01M619.4 264.55h0.01M619.56 266.39h0.01M619.72 264.32h0.01M619.88 264.33h0.01M620.04 266.35h0.01M620.19 265.61h0.01M620.35 264.34h0.01M620.51 265.29h0.01M620.67 266h0.01M620.83 267.25h0.01M620.98 264.52h0.01M621.14 262.99h0.01M621.3 265.31h0.01M621.46 264.45h0.01M621.62 264.47h0.01M621.77 264.96h0.01M621.93 264.78h0.01M622.09 264.77h0.01M622.25 265.72h0.01M622.41 262.47h0.01M622.56 262.25h0.01M622.72 264.58h0.01M622.88 263.15h0.01M623.04 265.67h0.01M623.2 265.1h0.01M623.35 263.78h0.01M623.51 265.99h0.01M623.67 266.13h0.01M623.83 264.54h0.01M623.99 266.78h0.01M624.14 263.21h0.01M624.3 264.14h0.01M624.46 264.62h0.01M624.62 264.21h0.01M624.78 265.73h0.01M624.93 265.75h0.01M625.09 264.03h0.01M625.25 263.93h0.01M625.41 264.69h0.01M625.57 264.86h0.01M625.72 265.32h0.01M625.88 263.44h0.01M626.04 266.2h0.01M626.2 265.56h0.01M626.35 265.21h0.01M626.51 266.1h0.01M626.67 265.84h0.01M626.83 265.44h0.01M626.99 263.33h0.01M627.14 262.35h0.01M627.3 263.5h0.01M627.46 265.05h0.01M627.62 263.49h0.01M627.78 262.47h0.01M627.93 261.81h0.01M628.09 260.8h0.01M628.25 258.5h0.01M628.41 259.18h0.01M628.57 254.82h0.01M628.72 251.34h0.01M628.88 248.15h0.01M629.04 242.74h0.01M629.2 238.81h0.01M629.36 232.34h0.01M629.51 226.73h0.01M629.67 217.68h0.01M629.83 210.91h0.01M629.99 208.89h0.01M630.15 213.71h0.01M630.3 225.47h0.01M630.46 231.3h0.01M630.62 236.18h0.01M630.78 241.22h0.01M630.94 247.41h0.01M631.09 250.76h0.01M631.25 253.44h0.01M631.41 258.48h0.01M631.57 259.9h0.01M631.73 259.3h0.01M631.88 260.94h0.01M632.04 260.74h0.01M632.2 263.23h0.01M632.36 262.2h0.01M632.52 262.64h0.01M632.67 262.06h0.01M632.83 264.97h0.01M632.99 264.7h0.01M633.15 264.22h0.01M633.3 264.31h0.01M633.46 265.59h0.01M633.62 265.22h0.01M633.78 265.96h0.01M633.94 262.5h0.01M634.09 264.81h0.01M634.25 264.76h0.01M634.41 265.35h0.01M634.57 264.74h0.01M634.73 264.01h0.01M634.88 265.09h0.01M635.04 264.8h0.01M635.2 262.68h0.01M635.36 263.89h0.01M635.52 264.55h0.01M635.67 265.18h0.01M635.83 264.8h0.01M635.99 265.49h0.01M636.15 264.52h0.01M636.31 265.43h0.01M636.46 265.48h0.01M636.62 265.18h0.01M636.78 265.82h0.01M636.94 264.61h0.01M637.1 262.37h0.01M637.25 265.4h0.01M637.41 266.4h0.01M637.57 263.89h0.01M637.73 264.92h0.01M637.89 262.91h0.01M638.04 264.46h0.01M638.2 263.93h0.01M638.36 265.58h0.01M638.52 266.37h0.01M638.68 265.01h0.01M638.83 264.19h0.01M638.99 265.66h0.01M639.15 266.37h0.01M639.31 265.4h0.01M639.47 265.25h0.01M639.62 265.12h0.01M639.78 264.81h0.01M639.94 262.44h0.01M640.1 264.66h0.01M640.25 265.1h0.01M640.41 265.58h0.01M640.57 263.62h0.01M640.73 265.71h0.01M640.89 262.55h0.01M641.04 263.61h0.01M641.2 264.63h0.01M641.36 262.25h0.01M641.52 261.9h0.01M641.68 259.27h0.01M641.83 260.72h0.01M641.99 257.21h0.01M642.15 255.76h0.01M642.31 251.61h0.01M642.47 250.62h0.01M642.62 245.56h0.01M642.78 237.01h0.01M642.94 233.06h0.01M643.1 228.39h0.01M643.26 218.41h0.01M643.41 215.53h0.01M643.57 209.14h0.01M643.73 216.88h0.01M643.89 219.68h0.01M644.05 230.43h0.01M644.2 233.99h0.01M644.36 239.75h0.01M644.52 248.75h0.01M644.68 250.87h0.01M644.84 253.18h0.01M644.99 257.17h0.01M645.15 258.03h0.01M645.31 259.73h0.01M645.47 260.34h0.01M645.63 261.41h0.01M645.78 262.04h0.01M645.94 263.19h0.01M646.1 263.5h0.01M646.26 264.71h0.01M646.41 264.77h0.01M646.57 263.58h0.01M646.73 265.15h0.01M646.89 263.68h0.01M647.05 263.77h0.01M647.2 265.55h0.01M647.36 264.27h0.01M647.52 265.62h0.01M647.68 264.52h0.01M647.84 265.61h0.01M647.99 264.55h0.01M648.15 264.71h0.01M648.31 265.88h0.01M648.47 262.91h0.01M648.63 263.95h0.01M648.78 266.42h0.01M648.94 264.54h0.01M649.1 265.29h0.01M649.26 262.9h0.01M649.42 264.93h0.01M649.57 264.5h0.01M649.73 265.05h0.01M649.89 264.26h0.01M650.05 265.39h0.01M650.21 265.74h0.01M650.36 265.35h0.01M650.52 265.28h0.01M650.68 264.27h0.01M650.84 264.78h0.01M651 265.29h0.01M651.15 265.26h0.01M651.31 265.75h0.01M651.47 264.74h0.01M651.63 266.82h0.01M651.79 265.08h0.01M651.94 263.72h0.01M652.1 265.21h0.01M652.26 265.49h0.01M652.42 264.81h0.01M652.58 265.74h0.01M652.73 265.57h0.01M652.89 264.18h0.01M653.05 265.43h0.01M653.21 262.92h0.01M653.36 264.26h0.01M653.52 264.84h0.01M653.68 265.28h0.01M653.84 264.88h0.01M654 266.72h0.01M654.15 264.19h0.01M654.31 263.36h0.01M654.47 263.41h0.01M654.63 264.09h0.01M654.79 262.66h0.01M654.94 262.11h0.01M655.1 261.95h0.01M655.26 260.4h0.01M655.42 258.67h0.01M655.58 257.51h0.01M655.73 256.26h0.01M655.89 253.11h0.01M656.05 249.43h0.01M656.21 248.59h0.01M656.37 241.14h0.01M656.52 234.52h0.01M656.68 231.72h0.01M656.84 221.42h0.01M657 210.27h0.01M657.16 209.85h0.01M657.31 213.23h0.01M657.47 219.01h0.01M657.63 228.07h0.01M657.79 234.73h0.01M657.95 242.02h0.01M658.1 244.82h0.01M658.26 247.59h0.01M658.42 250.2h0.01M658.58 254.86h0.01M658.74 258.38h0.01M658.89 259.99h0.01M659.05 260.05h0.01M659.21 260.73h0.01M659.37 262.27h0.01M659.53 263.23h0.01M659.68 262.78h0.01M659.84 263.43h0.01M660 263.75h0.01M660.16 265.82h0.01M660.31 264.8h0.01M660.47 262.78h0.01M660.63 264.67h0.01M660.79 262.36h0.01M660.95 264.36h0.01M661.1 265.04h0.01M661.26 264.51h0.01M661.42 264.21h0.01M661.58 265.5h0.01M661.74 264.58h0.01M661.89 265.22h0.01M662.05 263.42h0.01M662.21 265.26h0.01M662.37 264.71h0.01M662.53 266.27h0.01M662.68 266.14h0.01M662.84 264.91h0.01M663 265.71h0.01M663.16 265.11h0.01M663.32 264.6h0.01M663.47 264.29h0.01M663.63 266.18h0.01M663.79 265.01h0.01M663.95 264.19h0.01M664.11 265.48h0.01M664.26 266.08h0.01M664.42 265.49h0.01M664.58 263.26h0.01M664.74 264.81h0.01M664.9 263.32h0.01M665.05 265.12h0.01M665.21 263.68h0.01M665.37 266.22h0.01M665.53 265.07h0.01M665.69 264.74h0.01M665.84 263.13h0.01M666 264.36h0.01M666.16 263.73h0.01M666.32 265.21h0.01M666.48 265.2h0.01M666.63 263.56h0.01M666.79 263.39h0.01M666.95 263.56h0.01M667.11 263.56h0.01M667.26 265.17h0.01M667.42 262.52h0.01M667.58 264.34h0.01M667.74 263.18h0.01M667.9 263.51h0.01M668.05 265.66h0.01M668.21 265.58h0.01M668.37 264.79h0.01M668.53 262.8h0.01M668.69 261.01h0.01M668.84 261.25h0.01M669 258.83h0.01M669.16 259.46h0.01M669.32 257.18h0.01M669.48 254.81h0.01M669.63 250.67h0.01M669.79 247.87h0.01M669.95 242.68h0.01M670.11 235.19h0.01M670.27 231.59h0.01M670.42 222.57h0.01M670.58 217.72h0.01M670.74 212.07h0.01M670.9 211.04h0.01M671.06 217.16h0.01M671.21 226.28h0.01M671.37 234.94h0.01M671.53 239.42h0.01M671.69 243.66h0.01M671.85 247.56h0.01M672 250.99h0.01M672.16 254.21h0.01M672.32 257.24h0.01M672.48 259.02h0.01M672.64 260.86h0.01M672.79 260.35h0.01M672.95 261.42h0.01M673.11 261.28h0.01M673.27 262.48h0.01M673.42 264.65h0.01M673.58 265.52h0.01M673.74 265.68h0.01M673.9 265.34h0.01M674.06 263.97h0.01M674.21 265.99h0.01M674.37 266.65h0.01M674.53 264.9h0.01M674.69 263.98h0.01M674.85 264.03h0.01M675 263.19h0.01M675.16 264.84h0.01M675.32 265.36h0.01M675.48 265.12h0.01M675.64 266.12h0.01M675.79 265.48h0.01M675.95 263.6h0.01M676.11 262.81h0.01M676.27 263.61h0.01M676.43 264.56h0.01M676.58 265.08h0.01M676.74 264.61h0.01M676.9 266.67h0.01M677.06 264.29h0.01M677.22 264.09h0.01M677.37 264.98h0.01M677.53 264.83h0.01M677.69 266.49h0.01M677.85 264.09h0.01M678.01 264.09h0.01M678.16 267.53h0.01M678.32 265.42h0.01M678.48 264.52h0.01M678.64 263.24h0.01M678.8 265.69h0.01M678.95 264.89h0.01M679.11 263.43h0.01M679.27 264.39h0.01M679.43 265.06h0.01M679.59 265.28h0.01M679.74 264.81h0.01M679.9 265.6h0.01M680.06 263.84h0.01M680.22 265.65h0.01M680.37 264.24h0.01M680.53 263.86h0.01M680.69 263.56h0.01M680.85 264.56h0.01M681.01 264.57h0.01M681.16 264.17h0.01M681.32 264.28h0.01M681.48 263.16h0.01M681.64 264.11h0.01M681.8 261.84h0.01M681.95 260.67h0.01M682.11 263.42h0.01M682.27 261.72h0.01M682.43 262.25h0.01M682.59 259.36h0.01M682.74 258.04h0.01M682.9 257.17h0.01M683.06 255.44h0.01M683.22 250.82h0.01M683.38 244.72h0.01M683.53 240.76h0.01M683.69 238.34h0.01M683.85 232.93h0.01M684.01 225.15h0.01M684.17 216.15h0.01M684.32 212.57h0.01M523.31 264.74h0.01M523.59 263.14h0.01M523.86 264.18h0.01M524.13 264.46h0.01M524.4 265.44h0.01M524.68 264.14h0.01M524.95 264.66h0.01M525.22 264.47h0.01M525.49 263.57h0.01M525.77 265h0.01M526.04 265.1h0.01M526.31 265.09h0.01M526.58 266.34h0.01M526.86 265.17h0.01M527.13 263.87h0.01M527.4 264.07h0.01M527.67 265.37h0.01M527.94 266.01h0.01M528.22 264.41h0.01M528.49 264.81h0.01M528.76 264.7h0.01M529.03 263.42h0.01M529.31 265.06h0.01M529.58 263.77h0.01M529.85 264.55h0.01M530.12 264.02h0.01M530.4 265.5h0.01M530.67 264.86h0.01M530.94 264.45h0.01M531.21 264.8h0.01M531.48 264.43h0.01M531.76 264.5h0.01M532.03 262.03h0.01M532.3 265.16h0.01M536.93 262.23h0.01M537.2 263.67h0.01M537.48 265.32h0.01M537.75 265.1h0.01M538.02 266.1h0.01M538.29 264.16h0.01M538.57 264.08h0.01M538.84 264.41h0.01M539.11 263.24h0.01M539.38 266.46h0.01M539.65 266.08h0.01M539.93 265.27h0.01M540.2 264.16h0.01M540.47 264.4h0.01M540.74 265.87h0.01M541.02 264.83h0.01M541.29 264.11h0.01M541.56 266.28h0.01M541.83 264.32h0.01M542.11 263.97h0.01M542.38 263.82h0.01M542.65 263.84h0.01M542.92 265.17h0.01M543.2 266.92h0.01M543.47 266.21h0.01M543.74 265.74h0.01M544.01 265.1h0.01M544.28 264.12h0.01M544.56 264.75h0.01M544.83 264.4h0.01M545.1 263.19h0.01M545.37 265.78h0.01M545.65 263.56h0.01M545.92 262.4h0.01M550.55 261.77h0.01M550.82 261.66h0.01M551.09 263.24h0.01M551.37 265.54h0.01M551.64 264.1h0.01M551.91 265.58h0.01M552.18 264.4h0.01M552.45 265.43h0.01M552.73 265.36h0.01M553 264.59h0.01M553.27 265.46h0.01M553.54 264.78h0.01M553.82 264.92h0.01M554.09 264.35h0.01M554.36 265.43h0.01M554.63 265.98h0.01M554.91 266.58h0.01M555.18 264.41h0.01M555.45 264.25h0.01M555.72 265.88h0.01M555.99 266.67h0.01M556.27 264.2h0.01M556.54 264.82h0.01M556.81 264.09h0.01M557.08 264.81h0.01M557.36 263.62h0.01M557.63 264.45h0.01M557.9 264.86h0.01M558.17 263.79h0.01M558.45 265.73h0.01M558.72 264.53h0.01M558.99 264.1h0.01M559.26 264.06h0.01M559.54 262.68h0.01M564.16 263.38h0.01M564.44 265.36h0.01M564.71 262.35h0.01M564.98 264.51h0.01M565.25 264.91h0.01M565.53 266.1h0.01M565.8 264.75h0.01M566.07 265h0.01M566.34 266.19h0.01M566.62 263.71h0.01M566.89 263.93h0.01M567.16 266.6h0.01M567.43 264.09h0.01M567.71 265.55h0.01M567.98 264.08h0.01M568.25 264.32h0.01M568.52 263.84h0.01M568.79 264.28h0.01M569.07 263.4h0.01M569.34 265.13h0.01M569.61 265.13h0.01M569.88 265.11h0.01M570.16 265.22h0.01M570.43 262.72h0.01M570.7 264.62h0.01M570.97 263.55h0.01M571.25 264.51h0.01M571.52 264.81h0.01M571.79 263.78h0.01M572.06 265.2h0.01M572.33 263.77h0.01M572.61 262.92h0.01M572.88 263.59h0.01M573.15 262.76h0.01M577.78 263.3h0.01M578.05 263.02h0.01M578.33 263.24h0.01M578.6 263.39h0.01M578.87 264.95h0.01M579.14 264.64h0.01M579.42 265.52h0.01M579.69 264.37h0.01M579.96 264.09h0.01M580.23 264.65h0.01M580.5 264.86h0.01M580.78 264.41h0.01M581.05 264.52h0.01M581.32 264.35h0.01M581.59 265.47h0.01M581.87 265.6h0.01M582.14 265.28h0.01M582.41 265.67h0.01M582.68 264.52h0.01M582.96 262.91h0.01M583.23 264.73h0.01M583.5 266.37h0.01M583.77 265.58h0.01M584.05 265.76h0.01M584.32 264.35h0.01M584.59 264.6h0.01M584.86 263.12h0.01M585.13 264.67h0.01M585.41 264.86h0.01M585.68 263.44h0.01M585.95 265.38h0.01M586.22 264.22h0.01M586.5 262.65h0.01M586.77 262.74h0.01M591.4 262.57h0.01M591.67 264.62h0.01M591.94 265.67h0.01M592.22 264.76h0.01M592.49 263.68h0.01M592.76 265.25h0.01M593.03 265.8h0.01M593.3 266.28h0.01M593.58 263.01h0.01M593.85 266.32h0.01M594.12 265.42h0.01M594.39 265.94h0.01M594.67 264.18h0.01M594.94 266.45h0.01M595.21 266.18h0.01M595.48 264.64h0.01M595.76 266.38h0.01M596.03 264.34h0.01M596.3 263.7h0.01M596.57 264.72h0.01M596.84 267.26h0.01M597.12 265.45h0.01M597.39 265.07h0.01M597.66 263.54h0.01M597.93 263.37h0.01M598.21 263.85h0.01M598.48 264.77h0.01M598.75 265.04h0.01M599.02 264.91h0.01M599.3 265.4h0.01M599.57 265.21h0.01M599.84 265.32h0.01M600.11 264.74h0.01M600.39 263.41h0.01M600.66 265.8h0.01M600.93 262.53h0.01M601.2 263.41h0.01M601.47 262.68h0.01M601.75 262.92h0.01M602.02 262.05h0.01M603.38 260.81h0.01M603.65 263.27h0.01M603.93 264.43h0.01M604.2 264.06h0.01M604.47 264.85h0.01M604.74 263.21h0.01M605.01 264.47h0.01M605.29 264.18h0.01M605.56 264.67h0.01M605.83 264.75h0.01M606.1 263.65h0.01M606.38 264.46h0.01M606.65 263.34h0.01M606.92 266.52h0.01M607.19 264.33h0.01M607.47 263.9h0.01M607.74 264.81h0.01M608.01 266.48h0.01M608.28 264.78h0.01M608.56 265.03h0.01M608.83 263.51h0.01M609.1 263.62h0.01M609.37 263.72h0.01M609.64 264.49h0.01M609.92 264.38h0.01M610.19 264.47h0.01M610.46 263.65h0.01M610.73 264.63h0.01M611.01 264.03h0.01M611.28 263.79h0.01M611.55 264.69h0.01M611.82 264.43h0.01M612.1 265.22h0.01M612.37 265.61h0.01M612.64 265.11h0.01M612.91 265.13h0.01M613.18 265.76h0.01M613.46 263.88h0.01M613.73 262.75h0.01M614 261.93h0.01M618.63 261.36h0.01M618.9 263.78h0.01M619.18 261.87h0.01M619.45 264.62h0.01M619.72 264.24h0.01M619.99 263.26h0.01M620.27 266.13h0.01M620.54 264.23h0.01M620.81 264.28h0.01M621.08 262.59h0.01M621.35 265.22h0.01M621.63 264.48h0.01M621.9 266.99h0.01M622.17 264.66h0.01M622.44 266.17h0.01M622.72 265.89h0.01M622.99 264.08h0.01M623.26 265.32h0.01M623.53 265.98h0.01M623.81 264.01h0.01M624.08 264.57h0.01M624.35 265.12h0.01M624.62 266.22h0.01M624.9 265.45h0.01M625.17 266.02h0.01M625.44 265.03h0.01M625.71 265.09h0.01M625.98 264.85h0.01M626.26 265.32h0.01M626.53 264.87h0.01M626.8 263.58h0.01M627.07 264.65h0.01M627.35 262.87h0.01M627.62 262.21h0.01M632.25 262.22h0.01M632.52 265.42h0.01M632.79 263.43h0.01M633.07 264.34h0.01M633.34 264.2h0.01M633.61 264.97h0.01M633.88 265.03h0.01M634.15 265.87h0.01M634.43 265.99h0.01M634.7 264.55h0.01M634.97 265.7h0.01M635.24 265.32h0.01M635.52 263.96h0.01M635.79 263.59h0.01M636.06 264.97h0.01M636.33 266.75h0.01M636.61 264.52h0.01M636.88 263.94h0.01M637.15 264.75h0.01M637.42 265.17h0.01M637.69 265.88h0.01M637.97 264.64h0.01M638.24 262.16h0.01M638.51 264.18h0.01M638.78 265.09h0.01M639.06 265.64h0.01M639.33 264.33h0.01M639.6 266.04h0.01M639.87 265.16h0.01M640.15 264.82h0.01M640.42 264.68h0.01M640.69 263.75h0.01M640.96 263.73h0.01M641.24 264.08h0.01M645.86 264.94h0.01M646.14 263.58h0.01M646.41 266.73h0.01M646.68 265.79h0.01M646.95 262.62h0.01M647.23 265.4h0.01M647.5 263.36h0.01M647.77 265.39h0.01M648.04 264.45h0.01M648.32 264.14h0.01M648.59 263.7h0.01M648.86 265.08h0.01M649.13 265.91h0.01M649.41 264.83h0.01M649.68 266.28h0.01M649.95 266.25h0.01M650.22 263.85h0.01M650.49 265.64h0.01M650.77 263.64h0.01M651.04 263.69h0.01M651.31 265.59h0.01M651.58 265.22h0.01M651.86 265.02h0.01M652.13 263.8h0.01M652.4 264.75h0.01M652.67 263.6h0.01M652.95 264.73h0.01M653.22 263.57h0.01M653.49 264.79h0.01M653.76 263.23h0.01M654.03 263.53h0.01M654.31 262.76h0.01M654.58 262.64h0.01M654.85 264.43h0.01M659.48 261h0.01M659.75 263.44h0.01M660.03 265.42h0.01M660.3 264.88h0.01M660.57 265.36h0.01M660.84 263.95h0.01M661.12 264.96h0.01M661.39 264.64h0.01M661.66 263.74h0.01M661.93 266.15h0.01M662.2 266.11h0.01M662.48 264.52h0.01M662.75 266.18h0.01M663.02 263.92h0.01M663.29 265.86h0.01M663.57 265.68h0.01M663.84 264h0.01M664.11 263.26h0.01M664.38 264.8h0.01M664.66 265.2h0.01M664.93 266.12h0.01M665.2 265.12h0.01M665.47 265.22h0.01M665.75 265.86h0.01M666.02 265.26h0.01M666.29 263.95h0.01M666.56 264.66h0.01M666.83 267.19h0.01M667.11 263.13h0.01M667.38 263.54h0.01M667.65 265.66h0.01M667.92 262.99h0.01M668.2 264.86h0.01M668.47 262.41h0.01M673.1 262.79h0.01M673.37 264.63h0.01M673.64 263.83h0.01M673.92 264.3h0.01M674.19 264.4h0.01M674.46 265.91h0.01M674.73 264h0.01M675 264.99h0.01M675.28 263.46h0.01M675.55 263.96h0.01M675.82 264.12h0.01M676.09 265.81h0.01M676.37 262.88h0.01M676.64 264.43h0.01M676.91 264.8h0.01M677.18 265.32h0.01M677.46 264.8h0.01M677.73 263.72h0.01M678 266.73h0.01M678.27 264.32h0.01M678.54 265.98h0.01M678.82 265.64h0.01M679.09 264.34h0.01M679.36 264.27h0.01M679.63 265.01h0.01M679.91 264.43h0.01M680.18 263.31h0.01M680.45 264.6h0.01M680.72 265.7h0.01M681 264.89h0.01M681.27 264.76h0.01M681.54 262.78h0.01M681.81 264.04h0.01M682.09 264.54h0.01M616.4 200.5h0.01M616.4 202.5h0.01" stroke="#1f2b62" stroke-width="1.0" stroke-linecap="round" fill="none"/>
</g>
<text x="517.2" y="268.9" font-size="10" text-anchor="end" fill="#262626" >0</text>
<text x="517.2" y="240.53" font-size="10" text-anchor="end" fill="#262626" >0.5</text>
<text x="517.2" y="212.17" font-size="10" text-anchor="end" fill="#262626" >1</text>
<text x="517.2" y="183.8" font-size="10" text-anchor="end" fill="#262626" >1.5</text>
<text x="548.23" y="278.6" font-size="10" text-anchor="middle" fill="#262626" >-1000</text>
<text x="602.7" y="278.6" font-size="10" text-anchor="middle" fill="#262626" >0</text>
<text x="657.17" y="278.6" font-size="10" text-anchor="middle" fill="#262626" >1000</text>
<text transform="translate(602.7,292.7) scale(1,1.07)" x="0" y="0" font-size="11.3" text-anchor="middle" fill="#262626">Delay (ns)</text>
<text transform="translate(499.7,220.85) rotate(-90)" font-size="11.3" text-anchor="middle" fill="#262626"><tspan font-style="italic">g</tspan><tspan font-size="8.4" dy="-6.3">(2)</tspan></text>
<text x="528.1" y="195.2" font-size="10" fill="#262626" textLength="60.3" lengthAdjust="spacingAndGlyphs"><tspan font-style="italic">g</tspan><tspan font-size="5.6" dy="-4.2">(2)</tspan><tspan dy="4.2">(0)=0.2 (6)</tspan></text>
<path d="M555.75 11.3V130.5M589.91 11.3V130.5M624.06 11.3V130.5M658.21 11.3V130.5M521.6 90.77H684M521.6 51.03H684" stroke="#e3e3e3" stroke-width="1" fill="none"/>
<g clip-path="url(#cpe)">
<circle cx="524.8" cy="125.8" r="1.55" fill="#1f2b62"/>
<circle cx="526.2" cy="124.1" r="1.55" fill="#1f2b62"/>
<circle cx="528" cy="124.1" r="1.55" fill="#1f2b62"/>
<circle cx="530.8" cy="121.3" r="1.55" fill="#1f2b62"/>
<circle cx="533.3" cy="115.3" r="1.55" fill="#1f2b62"/>
<circle cx="535.8" cy="110.2" r="1.55" fill="#1f2b62"/>
<circle cx="539.3" cy="98.5" r="1.55" fill="#1f2b62"/>
<circle cx="542.3" cy="91.8" r="1.55" fill="#1f2b62"/>
<circle cx="545.8" cy="81.6" r="1.55" fill="#1f2b62"/>
<circle cx="549.4" cy="84.2" r="1.55" fill="#1f2b62"/>
<circle cx="553.5" cy="98.8" r="1.55" fill="#1f2b62"/>
<circle cx="557.5" cy="95.4" r="1.55" fill="#1f2b62"/>
<circle cx="562.3" cy="100.7" r="1.55" fill="#1f2b62"/>
<path d="M565.4 97.7V100.7M567.8 97.7V100.7M565.4 99.2H567.8" stroke="#1f2b62" stroke-width="0.9" fill="none"/>
<circle cx="566.6" cy="99.2" r="0.9" fill="#1f2b62"/>
<path d="M570.9 79V82M573.3 79V82M570.9 80.5H573.3" stroke="#1f2b62" stroke-width="0.9" fill="none"/>
<circle cx="572.1" cy="80.5" r="0.9" fill="#1f2b62"/>
<path d="M575.3 63.7V66.7M577.7 63.7V66.7M575.3 65.2H577.7" stroke="#1f2b62" stroke-width="0.9" fill="none"/>
<circle cx="576.5" cy="65.2" r="0.9" fill="#1f2b62"/>
<path d="M580.3 46.7V49.7M582.7 46.7V49.7M580.3 48.2H582.7" stroke="#1f2b62" stroke-width="0.9" fill="none"/>
<circle cx="581.5" cy="48.2" r="0.9" fill="#1f2b62"/>
<path d="M586.1 51.1V54.1M588.5 51.1V54.1M586.1 52.6H588.5" stroke="#1f2b62" stroke-width="0.9" fill="none"/>
<circle cx="587.3" cy="52.6" r="0.9" fill="#1f2b62"/>
<path d="M592.4 46.2V49.2M594.8 46.2V49.2M592.4 47.7H594.8" stroke="#1f2b62" stroke-width="0.9" fill="none"/>
<circle cx="593.6" cy="47.7" r="0.9" fill="#1f2b62"/>
<path d="M597.5 63.3V66.3M599.9 63.3V66.3M597.5 64.8H599.9" stroke="#1f2b62" stroke-width="0.9" fill="none"/>
<circle cx="598.7" cy="64.8" r="0.9" fill="#1f2b62"/>
<path d="M602.9 74.9V77.9M605.3 74.9V77.9M602.9 76.4H605.3" stroke="#1f2b62" stroke-width="0.9" fill="none"/>
<circle cx="604.1" cy="76.4" r="0.9" fill="#1f2b62"/>
<path d="M607.5 83.9V86.9M609.9 83.9V86.9M607.5 85.4H609.9" stroke="#1f2b62" stroke-width="0.9" fill="none"/>
<circle cx="608.7" cy="85.4" r="0.9" fill="#1f2b62"/>
<path d="M614.3 99.9V102.9M616.7 99.9V102.9M614.3 101.4H616.7" stroke="#1f2b62" stroke-width="0.9" fill="none"/>
<circle cx="615.5" cy="101.4" r="0.9" fill="#1f2b62"/>
<path d="M618.8 88V91M621.2 88V91M618.8 89.5H621.2" stroke="#1f2b62" stroke-width="0.9" fill="none"/>
<circle cx="620" cy="89.5" r="0.9" fill="#1f2b62"/>
<path d="M623.4 85.1V88.1M625.8 85.1V88.1M623.4 86.6H625.8" stroke="#1f2b62" stroke-width="0.9" fill="none"/>
<circle cx="624.6" cy="86.6" r="0.9" fill="#1f2b62"/>
<path d="M628.1 87.8V90.8M630.5 87.8V90.8M628.1 89.3H630.5" stroke="#1f2b62" stroke-width="0.9" fill="none"/>
<circle cx="629.3" cy="89.3" r="0.9" fill="#1f2b62"/>
<path d="M632.8 97.1V100.1M635.2 97.1V100.1M632.8 98.6H635.2" stroke="#1f2b62" stroke-width="0.9" fill="none"/>
<circle cx="634" cy="98.6" r="0.9" fill="#1f2b62"/>
<path d="M640 112.9V115.9M642.4 112.9V115.9M640 114.4H642.4" stroke="#1f2b62" stroke-width="0.9" fill="none"/>
<circle cx="641.2" cy="114.4" r="0.9" fill="#1f2b62"/>
<path d="M637.3 122.2V125.2M639.7 122.2V125.2M637.3 123.7H639.7" stroke="#1f2b62" stroke-width="0.9" fill="none"/>
<circle cx="638.5" cy="123.7" r="0.9" fill="#1f2b62"/>
<path d="M643.8 124.6V127.6M646.2 124.6V127.6M643.8 126.1H646.2" stroke="#1f2b62" stroke-width="0.9" fill="none"/>
<circle cx="645" cy="126.1" r="0.9" fill="#1f2b62"/>
<path d="M651.6 128.1V131.1M654 128.1V131.1M651.6 129.6H654" stroke="#1f2b62" stroke-width="0.9" fill="none"/>
<circle cx="652.8" cy="129.6" r="0.9" fill="#1f2b62"/>
<path d="M656.9 127.4V130.4M659.3 127.4V130.4M656.9 128.9H659.3" stroke="#1f2b62" stroke-width="0.9" fill="none"/>
<circle cx="658.1" cy="128.9" r="0.9" fill="#1f2b62"/>
<path d="M659.1 117.5V120.5M661.5 117.5V120.5M659.1 119H661.5" stroke="#1f2b62" stroke-width="0.9" fill="none"/>
<circle cx="660.3" cy="119" r="0.9" fill="#1f2b62"/>
<path d="M659.8 122.4V125.4M662.2 122.4V125.4M659.8 123.9H662.2" stroke="#1f2b62" stroke-width="0.9" fill="none"/>
<circle cx="661" cy="123.9" r="0.9" fill="#1f2b62"/>
<path d="M521.6 130.4 L522.06 130.48 L522.98 130.39 L523.44 130.23 L524.36 129.66 L525.74 128.27 L526.65 127.03 L527.57 125.56 L528.95 122.98 L530.79 118.99 L536.76 104.08 L539.06 98.97 L540.44 96.43 L541.82 94.31 L543.2 92.56 L544.58 91.14 L545.96 90.01 L547.33 89.25 L548.25 88.97 L549.63 88.9 L550.55 89.05 L551.93 89.51 L556.06 91.55 L557.44 92.12 L558.36 92.37 L559.28 92.49 L560.66 92.34 L562.04 91.76 L563.88 90.46 L566.17 88.33 L568.93 85.45 L569.85 84.28 L570.77 82.88 L571.69 81.18 L572.61 79.1 L574.45 73.92 L578.58 60.38 L579.5 57.9 L580.42 55.96 L581.8 53.87 L582.72 52.88 L583.64 52.12 L584.56 51.51 L585.47 51.07 L586.39 50.79 L587.31 50.69 L588.69 50.92 L590.07 51.66 L591.45 53 L592.83 54.99 L594.21 57.6 L599.72 69.29 L603.86 79.6 L605.23 82.61 L606.15 84.29 L607.53 86.44 L609.37 88.83 L610.75 90.36 L612.13 91.55 L613.05 92.11 L613.97 92.44 L614.88 92.54 L615.8 92.42 L617.18 91.96 L621.78 89.39 L623.16 88.75 L624.08 88.46 L625.45 88.28 L626.37 88.38 L627.75 88.86 L628.67 89.43 L630.05 90.67 L631.43 92.4 L632.35 93.85 L633.73 96.45 L635.1 99.49 L636.48 102.9 L641.08 115.44 L642.92 119.99 L644.75 123.66 L645.67 125.14 L647.05 126.99 L647.97 127.99 L648.89 128.8 L650.27 129.66 L651.65 130.07 L653.03 130.02 L654.4 129.51 L655.78 128.57 L657.16 127.22 L659 124.8" fill="none" stroke="#c6265a" stroke-width="1.35" stroke-linejoin="round" />
<line x1="547.5" y1="87.6" x2="547.5" y2="131" stroke="#222" stroke-width="1" stroke-dasharray="4 2.6"/>
</g>
<rect x="521.6" y="11.3" width="162.4" height="119.2" fill="none" stroke="#8f8f8f" stroke-width="1"/>
<path d="M555.75 130.5v-2.0M555.75 11.3v2.0M589.91 130.5v-2.0M589.91 11.3v2.0M624.06 130.5v-2.0M624.06 11.3v2.0M658.21 130.5v-2.0M658.21 11.3v2.0M521.6 90.77h2.0M684 90.77h-2.0M521.6 51.03h2.0M684 51.03h-2.0" stroke="#8f8f8f" stroke-width="1" fill="none"/>
<text x="517.8" y="134.8" font-size="10" text-anchor="end" fill="#262626" >0</text>
<text x="517.8" y="95.07" font-size="10" text-anchor="end" fill="#262626" >0.5</text>
<text x="517.8" y="55.33" font-size="10" text-anchor="end" fill="#262626" >1</text>
<text x="517.8" y="15.6" font-size="10" text-anchor="end" fill="#262626" >1.5</text>
<text x="521.6" y="143.8" font-size="10" text-anchor="middle" fill="#262626" >0</text>
<text x="555.75" y="143.8" font-size="10" text-anchor="middle" fill="#262626" >2</text>
<text x="589.91" y="143.8" font-size="10" text-anchor="middle" fill="#262626" >4</text>
<text x="624.06" y="143.8" font-size="10" text-anchor="middle" fill="#262626" >6</text>
<text x="658.21" y="143.8" font-size="10" text-anchor="middle" fill="#262626" >8</text>
<text transform="translate(499.9,70.9) rotate(-90) scale(1,1.06)" x="0" y="0" font-size="11.3" text-anchor="middle" fill="#262626" >Counts (norm.)</text>
<text x="528.7" y="23.5" font-size="10.3" text-anchor="start" fill="#262626" textLength="59.8" lengthAdjust="spacingAndGlyphs" >Femtosecond</text>
<text transform="translate(553,158.6) scale(1,1.07)" x="0" y="0" font-size="11.3" text-anchor="start" fill="#262626" textLength="74.9" lengthAdjust="spacingAndGlyphs">Pulse Energy (</text>
<path d="M628.3 154.1l1.1 -0.5l2.3 5.5l4.0 -11.3h12" fill="none" stroke="#262626" stroke-width="0.85" stroke-linejoin="miter"/>
<text transform="translate(636.2,158.6) scale(1,1.07)" x="0" y="0" font-size="11.3" text-anchor="start" fill="#262626" textLength="15.6" lengthAdjust="spacingAndGlyphs">pJ)</text>
<rect x="608.4" y="11.3" width="75.6" height="72.1" fill="#fff" stroke="#8f8f8f" stroke-width="1"/>
<path d="M627.66 22.4V62.4M652.86 22.4V62.4M623.5 44.54H676.8M623.5 26.69H676.8" stroke="#e3e3e3" stroke-width="1" fill="none"/>
<g clip-path="url(#cpi)">
<path d="M622.62 62.08 L627.08 61.99 L630.14 61.81 L632.93 61.48 L635.71 60.95 L637.66 60.38 L639.33 59.67 L640.73 58.78 L642.12 57.47 L642.96 56.39 L643.79 55.03 L644.63 53.34 L645.46 51.26 L646.3 48.78 L647.14 45.88 L649.92 34.55 L650.76 31.52 L651.31 29.89 L651.87 28.69 L652.43 27.99 L652.71 27.85 L652.99 27.84 L653.26 27.98 L653.82 28.65 L654.38 29.83 L654.94 31.44 L655.77 34.46 L658.28 44.77 L659.95 50.48 L661.34 54.01 L662.18 55.63 L663.02 56.93 L664.13 58.28 L665.24 59.27 L666.64 60.14 L668.31 60.83 L669.98 61.26 L672.21 61.62 L674.72 61.84 L678.06 61.99" fill="none" stroke="#1f2b62" stroke-width="1.6" stroke-linejoin="round" />
<path d="M622.62 62.37 L630.7 62.15 L633.48 61.91 L635.71 61.56 L637.66 61.03 L639.33 60.29 L640.73 59.35 L641.84 58.29 L642.96 56.85 L643.79 55.46 L644.63 53.73 L645.46 51.63 L647.14 46.21 L649.92 34.85 L650.76 31.81 L651.31 30.18 L651.87 28.98 L652.43 28.28 L652.71 28.14 L652.99 28.13 L653.26 28.26 L653.82 28.94 L654.38 30.12 L654.94 31.73 L655.77 34.75 L658.28 45.06 L659.95 50.76 L661.34 54.29 L662.18 55.91 L663.02 57.22 L664.13 58.56 L665.24 59.55 L666.64 60.43 L668.31 61.11 L669.98 61.55 L672.21 61.9 L674.72 62.13 L678.06 62.28" fill="none" stroke="#c21f55" stroke-width="1.1" stroke-linejoin="round" />
</g>
<rect x="623.5" y="22.4" width="53.3" height="40" fill="none" stroke="#c2c2c2" stroke-width="1"/>
<path d="M627.66 62.4v-1.2M627.66 22.4v1.2M652.86 62.4v-1.2M652.86 22.4v1.2M623.5 44.54h1.2M676.8 44.54h-1.2M623.5 26.69h1.2M676.8 26.69h-1.2" stroke="#c2c2c2" stroke-width="1" fill="none"/>
<text x="622.4" y="29.1" font-size="7.2" text-anchor="end" fill="#262626" >1</text>
<text x="627.66" y="72.3" font-size="7.2" text-anchor="middle" fill="#262626" >-2</text>
<text x="652.86" y="72.3" font-size="7.2" text-anchor="middle" fill="#262626" >0</text>
<text x="678.06" y="72.3" font-size="7.2" text-anchor="middle" fill="#262626" >2</text>
<text x="650.2" y="80" font-size="7.5" text-anchor="middle" fill="#262626" >Delay (ps)</text>
<text transform="translate(616.1,41.2) rotate(-90)" x="0" y="0" font-size="7.6" text-anchor="middle" fill="#262626" textLength="50" lengthAdjust="spacingAndGlyphs" >Autocor. (nor.)</text>
<text x="617.5" y="19.4" font-size="7.9" text-anchor="start" fill="#262626" textLength="65.5" lengthAdjust="spacingAndGlyphs" >Duration=595 (1) fs</text>
<text x="-1.1" y="9.8" font-size="16.5" text-anchor="start" fill="#262626" >a</text>
<text x="-0.5" y="141.4" font-size="16.5" text-anchor="start" fill="#262626" >b</text>
<text x="242" y="9.3" font-size="16.5" text-anchor="start" fill="#262626" >c</text>
<text x="241.7" y="178.8" font-size="16.5" text-anchor="start" fill="#262626" >d</text>
<text x="479.5" y="9.3" font-size="16.5" text-anchor="start" fill="#262626" >e</text>
<text x="477.9" y="180" font-size="16.5" text-anchor="start" fill="#262626" >f</text>
</svg></body></html>
